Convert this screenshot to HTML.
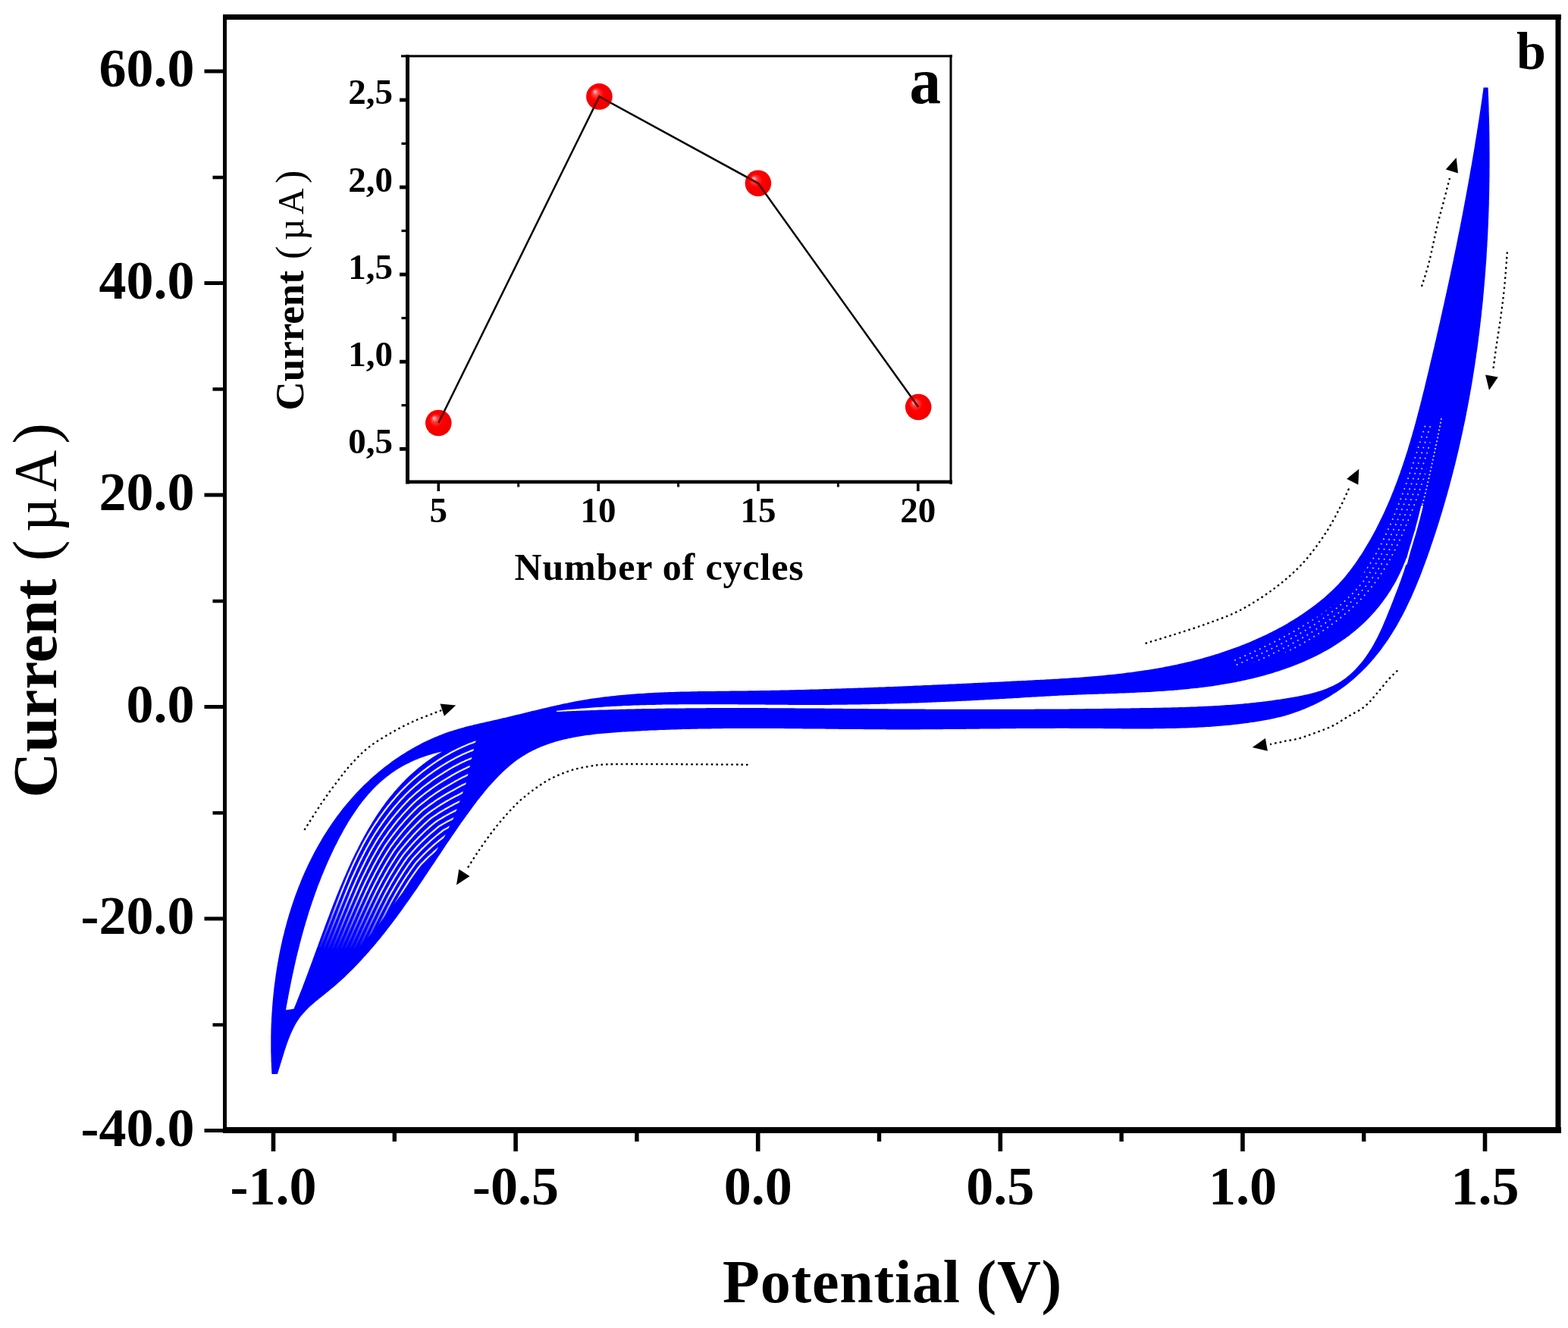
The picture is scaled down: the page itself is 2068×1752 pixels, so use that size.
<!DOCTYPE html>
<html><head><meta charset="utf-8"><title>Cyclic voltammetry</title>
<style>html,body{margin:0;padding:0;background:#fff;overflow:hidden;width:2068px;height:1752px;}svg{display:block;}</style></head>
<body>
<svg width="2068" height="1752" viewBox="0 0 2068 1752">
<defs>
<radialGradient id="ball" cx="0.5" cy="0.5" r="0.5" fx="0.32" fy="0.3">
<stop offset="0" stop-color="#ffd8d8"/>
<stop offset="0.22" stop-color="#ff4040"/>
<stop offset="0.5" stop-color="#ff0000"/>
<stop offset="1" stop-color="#ee0000"/>
</radialGradient>
</defs>
<rect width="2068" height="1752" fill="#fff"/>
<path d="M358.5,1417.0 L358.3,1414.1 L358.2,1411.2 L358.0,1408.2 L357.9,1405.3 L357.8,1402.4 L357.6,1399.4 L357.6,1396.5 L357.5,1393.5 L357.4,1390.6 L357.3,1387.6 L357.3,1384.6 L357.3,1381.7 L357.3,1378.7 L357.3,1375.7 L357.3,1372.7 L357.3,1369.8 L357.3,1366.8 L357.4,1363.8 L357.4,1360.8 L357.5,1357.8 L357.6,1354.8 L357.7,1351.8 L357.9,1348.8 L358.0,1345.8 L358.1,1342.8 L358.3,1339.8 L358.5,1336.7 L358.7,1333.7 L358.9,1330.7 L359.1,1327.7 L359.4,1324.7 L359.6,1321.7 L359.9,1318.6 L360.2,1315.6 L360.5,1312.6 L360.8,1309.6 L361.1,1306.6 L361.4,1303.6 L361.8,1300.5 L362.2,1297.5 L362.6,1294.5 L363.0,1291.5 L363.4,1288.5 L363.8,1285.5 L364.3,1282.5 L364.7,1279.4 L365.2,1276.4 L365.7,1273.4 L366.2,1270.4 L366.8,1267.4 L367.3,1264.4 L367.9,1261.4 L368.4,1258.5 L369.0,1255.5 L369.6,1252.5 L370.3,1249.5 L370.9,1246.5 L371.6,1243.6 L372.2,1240.6 L372.9,1237.6 L373.6,1234.7 L374.4,1231.7 L375.1,1228.8 L375.8,1225.8 L376.6,1222.9 L377.4,1219.9 L378.2,1217.0 L379.0,1214.1 L379.9,1211.2 L380.7,1208.2 L381.6,1205.3 L382.5,1202.4 L383.4,1199.5 L384.3,1196.7 L385.3,1193.8 L386.2,1190.9 L387.2,1188.0 L388.2,1185.2 L389.2,1182.3 L390.2,1179.5 L391.3,1176.7 L392.4,1173.8 L393.4,1171.0 L394.5,1168.2 L395.7,1165.4 L396.8,1162.6 L397.9,1159.8 L399.1,1157.1 L400.3,1154.3 L401.5,1151.5 L402.7,1148.8 L404.0,1146.0 L405.3,1143.3 L406.5,1140.6 L407.8,1137.9 L409.2,1135.2 L410.5,1132.5 L411.8,1129.9 L413.2,1127.2 L414.6,1124.5 L416.0,1121.9 L417.5,1119.3 L418.9,1116.7 L420.4,1114.1 L421.9,1111.5 L423.4,1108.9 L424.9,1106.3 L426.4,1103.8 L428.0,1101.2 L429.6,1098.7 L431.2,1096.2 L432.8,1093.7 L434.4,1091.2 L436.1,1088.7 L437.8,1086.3 L439.5,1083.8 L441.2,1081.4 L442.9,1079.0 L444.7,1076.6 L446.5,1074.2 L448.3,1071.8 L450.1,1069.5 L451.9,1067.1 L453.8,1064.8 L455.7,1062.5 L457.6,1060.2 L459.5,1057.9 L461.5,1055.7 L463.4,1053.4 L465.4,1051.2 L467.4,1049.0 L469.4,1046.8 L471.5,1044.6 L473.5,1042.4 L475.6,1040.3 L477.7,1038.2 L479.8,1036.1 L482.0,1034.0 L484.2,1031.9 L486.3,1029.9 L488.5,1027.8 L490.8,1025.8 L493.0,1023.8 L495.3,1021.9 L497.5,1019.9 L499.8,1018.0 L502.2,1016.1 L504.5,1014.2 L506.8,1012.3 L509.2,1010.5 L511.6,1008.7 L514.0,1006.9 L516.4,1005.1 L518.9,1003.3 L521.3,1001.6 L523.8,999.9 L526.3,998.2 L528.8,996.6 L531.3,995.0 L533.9,993.4 L536.4,991.8 L539.0,990.2 L541.6,988.7 L544.2,987.2 L546.8,985.7 L549.4,984.3 L552.1,982.9 L554.7,981.5 L557.4,980.1 L560.1,978.8 L562.8,977.5 L565.5,976.2 L568.2,975.0 L571.0,973.8 L573.7,972.6 L576.5,971.4 L579.3,970.3 L582.1,969.2 L584.9,968.1 L587.7,967.1 L590.5,966.1 L593.4,965.1 L596.2,964.2 L599.1,963.3 L602.0,962.4 L604.9,961.5 L607.8,960.7 L610.7,959.9 L613.6,959.1 L616.5,958.3 L619.5,957.6 L622.4,956.9 L625.3,956.1 L628.3,955.4 L631.2,954.7 L634.2,954.1 L637.1,953.4 L640.1,952.7 L643.0,952.0 L646.0,951.4 L649.0,950.7 L651.9,950.0 L654.9,949.4 L657.8,948.7 L660.8,948.0 L663.7,947.3 L666.7,946.7 L669.6,946.0 L672.6,945.3 L675.5,944.6 L678.5,943.8 L681.4,943.1 L684.3,942.4 L687.3,941.7 L690.2,941.0 L693.1,940.3 L696.1,939.5 L699.0,938.8 L701.9,938.1 L704.9,937.4 L707.8,936.7 L710.7,936.0 L713.6,935.3 L716.6,934.6 L719.5,933.9 L722.4,933.2 L725.4,932.5 L728.3,931.8 L731.2,931.2 L734.1,930.5 L737.1,929.9 L740.0,929.2 L742.9,928.6 L745.9,928.0 L748.8,927.4 L751.7,926.8 L754.7,926.2 L757.6,925.6 L760.5,925.1 L763.5,924.6 L766.4,924.0 L769.4,923.5 L772.3,923.0 L775.3,922.6 L778.2,922.1 L781.2,921.6 L784.1,921.2 L787.1,920.8 L790.1,920.4 L793.0,920.0 L796.0,919.6 L798.9,919.2 L801.9,918.9 L804.9,918.5 L807.8,918.2 L810.8,917.9 L813.8,917.6 L816.8,917.3 L819.7,917.0 L822.7,916.7 L825.7,916.4 L828.7,916.2 L831.7,915.9 L834.6,915.7 L837.6,915.5 L840.6,915.3 L843.6,915.1 L846.6,914.9 L849.6,914.7 L852.6,914.5 L855.6,914.3 L858.6,914.2 L861.6,914.0 L864.6,913.8 L867.5,913.7 L870.5,913.6 L873.5,913.4 L876.5,913.3 L879.5,913.2 L882.5,913.1 L885.5,913.0 L888.6,912.9 L891.6,912.8 L894.6,912.7 L897.6,912.6 L900.6,912.6 L903.6,912.5 L906.6,912.4 L909.6,912.4 L912.6,912.3 L915.6,912.2 L918.6,912.2 L921.6,912.1 L924.6,912.1 L927.6,912.0 L930.7,912.0 L933.7,912.0 L936.7,911.9 L939.7,911.9 L942.7,911.9 L945.7,911.8 L948.7,911.8 L951.7,911.8 L954.8,911.7 L957.8,911.7 L960.8,911.7 L963.8,911.6 L966.8,911.6 L969.8,911.6 L972.8,911.5 L975.8,911.5 L978.9,911.5 L981.9,911.4 L984.9,911.4 L987.9,911.3 L990.9,911.3 L993.9,911.3 L996.9,911.2 L999.9,911.2 L1003.0,911.1 L1006.0,911.1 L1009.0,911.0 L1012.0,910.9 L1015.0,910.9 L1018.0,910.8 L1021.0,910.8 L1024.0,910.7 L1027.0,910.7 L1030.0,910.6 L1033.1,910.5 L1036.1,910.5 L1039.1,910.4 L1042.1,910.3 L1045.1,910.2 L1048.1,910.2 L1051.1,910.1 L1054.1,910.0 L1057.1,909.9 L1060.1,909.9 L1063.2,909.8 L1066.2,909.7 L1069.2,909.6 L1072.2,909.5 L1075.2,909.5 L1078.2,909.4 L1081.2,909.3 L1084.2,909.2 L1087.2,909.1 L1090.2,909.0 L1093.2,908.9 L1096.2,908.8 L1099.2,908.7 L1102.3,908.6 L1105.3,908.5 L1108.3,908.4 L1111.3,908.3 L1114.3,908.2 L1117.3,908.1 L1120.3,908.0 L1123.3,907.9 L1126.3,907.8 L1129.3,907.7 L1132.3,907.6 L1135.3,907.5 L1138.3,907.4 L1141.3,907.3 L1144.3,907.2 L1147.3,907.1 L1150.4,907.0 L1153.4,906.8 L1156.4,906.7 L1159.4,906.6 L1162.4,906.5 L1165.4,906.4 L1168.4,906.3 L1171.4,906.1 L1174.4,906.0 L1177.4,905.9 L1180.4,905.8 L1183.4,905.7 L1186.4,905.5 L1189.4,905.4 L1192.4,905.3 L1195.4,905.2 L1198.4,905.0 L1201.4,904.9 L1204.4,904.8 L1207.4,904.6 L1210.5,904.5 L1213.5,904.4 L1216.5,904.3 L1219.5,904.1 L1222.5,904.0 L1225.5,903.9 L1228.5,903.7 L1231.5,903.6 L1234.5,903.5 L1237.5,903.3 L1240.5,903.2 L1243.5,903.1 L1246.5,902.9 L1249.5,902.8 L1252.5,902.6 L1255.5,902.5 L1258.5,902.4 L1261.5,902.2 L1264.5,902.1 L1267.5,901.9 L1270.5,901.8 L1273.5,901.7 L1276.5,901.5 L1279.6,901.4 L1282.6,901.2 L1285.6,901.1 L1288.6,901.0 L1291.6,900.8 L1294.6,900.7 L1297.6,900.5 L1300.6,900.4 L1303.6,900.2 L1306.6,900.1 L1309.6,899.9 L1312.6,899.8 L1315.6,899.7 L1318.6,899.5 L1321.6,899.4 L1324.6,899.2 L1327.6,899.1 L1330.6,898.9 L1333.6,898.8 L1336.6,898.6 L1339.6,898.5 L1342.6,898.3 L1345.6,898.2 L1348.7,898.0 L1351.7,897.9 L1354.7,897.7 L1357.7,897.6 L1360.7,897.4 L1363.7,897.3 L1366.7,897.1 L1369.7,897.0 L1372.7,896.8 L1375.7,896.7 L1378.7,896.5 L1381.7,896.3 L1384.7,896.2 L1387.7,896.0 L1390.7,895.8 L1393.7,895.7 L1396.7,895.5 L1399.7,895.3 L1402.7,895.1 L1405.7,894.9 L1408.7,894.7 L1411.7,894.5 L1414.7,894.3 L1417.7,894.1 L1420.7,893.9 L1423.7,893.7 L1426.7,893.5 L1429.7,893.2 L1432.7,893.0 L1435.6,892.8 L1438.6,892.5 L1441.6,892.3 L1444.6,892.0 L1447.6,891.8 L1450.6,891.5 L1453.6,891.2 L1456.5,890.9 L1459.5,890.6 L1462.5,890.3 L1465.5,890.0 L1468.5,889.7 L1471.4,889.4 L1474.4,889.0 L1477.4,888.7 L1480.4,888.4 L1483.3,888.0 L1486.3,887.6 L1489.3,887.3 L1492.2,886.9 L1495.2,886.5 L1498.2,886.1 L1501.1,885.6 L1504.1,885.2 L1507.0,884.8 L1510.0,884.3 L1512.9,883.9 L1515.9,883.4 L1518.8,882.9 L1521.8,882.4 L1524.7,881.9 L1527.7,881.4 L1530.6,880.9 L1533.6,880.4 L1536.5,879.8 L1539.4,879.2 L1542.4,878.7 L1545.3,878.1 L1548.2,877.5 L1551.2,876.9 L1554.1,876.2 L1557.0,875.6 L1559.9,874.9 L1562.8,874.3 L1565.8,873.6 L1568.7,872.9 L1571.6,872.2 L1574.5,871.4 L1577.4,870.7 L1580.3,869.9 L1583.2,869.2 L1586.1,868.4 L1589.0,867.6 L1591.9,866.7 L1594.8,865.9 L1597.6,865.1 L1600.5,864.2 L1603.4,863.3 L1606.3,862.4 L1609.2,861.5 L1612.0,860.5 L1614.9,859.6 L1617.8,858.6 L1620.6,857.6 L1623.5,856.6 L1626.3,855.6 L1629.2,854.5 L1632.0,853.5 L1634.9,852.4 L1637.7,851.3 L1640.6,850.2 L1643.4,849.1 L1646.2,847.9 L1649.0,846.7 L1651.8,845.5 L1654.6,844.3 L1657.4,843.1 L1660.2,841.8 L1663.0,840.6 L1665.7,839.3 L1668.5,838.0 L1671.3,836.7 L1674.0,835.3 L1676.7,834.0 L1679.4,832.6 L1682.1,831.2 L1684.8,829.8 L1687.5,828.3 L1690.2,826.9 L1692.8,825.4 L1695.5,823.9 L1698.1,822.4 L1700.7,820.8 L1703.3,819.3 L1705.9,817.7 L1708.5,816.1 L1711.1,814.5 L1713.6,812.8 L1716.1,811.2 L1718.6,809.5 L1721.1,807.8 L1723.6,806.1 L1726.0,804.3 L1728.5,802.6 L1730.9,800.8 L1733.3,799.0 L1735.7,797.2 L1738.0,795.3 L1740.4,793.5 L1742.7,791.6 L1745.0,789.7 L1747.3,787.8 L1749.5,785.8 L1751.7,783.8 L1753.9,781.8 L1756.1,779.8 L1758.2,777.8 L1760.3,775.7 L1762.4,773.6 L1764.5,771.4 L1766.5,769.3 L1768.5,767.1 L1770.5,764.9 L1772.4,762.7 L1774.3,760.4 L1776.2,758.1 L1778.0,755.8 L1779.9,753.5 L1781.7,751.1 L1783.4,748.7 L1785.2,746.3 L1786.9,743.9 L1788.6,741.5 L1790.3,739.1 L1791.9,736.6 L1793.5,734.1 L1795.2,731.7 L1796.8,729.2 L1798.3,726.7 L1799.9,724.1 L1801.4,721.6 L1802.9,719.1 L1804.4,716.5 L1805.9,714.0 L1807.4,711.4 L1808.8,708.8 L1810.3,706.2 L1811.7,703.6 L1813.1,701.0 L1814.5,698.4 L1815.8,695.7 L1817.2,693.1 L1818.5,690.5 L1819.8,687.8 L1821.1,685.1 L1822.4,682.4 L1823.7,679.8 L1825.0,677.1 L1826.2,674.4 L1827.4,671.6 L1828.6,668.9 L1829.8,666.2 L1831.0,663.5 L1832.2,660.7 L1833.4,658.0 L1834.5,655.2 L1835.6,652.4 L1836.7,649.7 L1837.9,646.9 L1838.9,644.1 L1840.0,641.3 L1841.1,638.5 L1842.1,635.7 L1843.2,632.9 L1844.2,630.0 L1845.2,627.2 L1846.3,624.4 L1847.2,621.5 L1848.2,618.7 L1849.2,615.8 L1850.2,613.0 L1851.1,610.1 L1852.1,607.3 L1853.0,604.4 L1853.9,601.5 L1854.9,598.6 L1855.8,595.7 L1856.7,592.9 L1857.5,590.0 L1858.4,587.1 L1859.3,584.2 L1860.2,581.3 L1861.0,578.3 L1861.9,575.4 L1862.7,572.5 L1863.5,569.6 L1864.4,566.7 L1865.2,563.7 L1866.0,560.8 L1866.8,557.9 L1867.6,555.0 L1868.4,552.0 L1869.2,549.1 L1869.9,546.1 L1870.7,543.2 L1871.5,540.3 L1872.2,537.3 L1873.0,534.4 L1873.7,531.4 L1874.5,528.5 L1875.2,525.5 L1876.0,522.6 L1876.7,519.6 L1877.4,516.7 L1878.2,513.7 L1878.9,510.8 L1879.6,507.8 L1880.3,504.8 L1881.0,501.9 L1881.7,498.9 L1882.4,496.0 L1883.1,493.0 L1883.9,490.1 L1884.6,487.1 L1885.2,484.2 L1885.9,481.2 L1886.6,478.3 L1887.3,475.3 L1888.0,472.4 L1888.7,469.5 L1889.4,466.5 L1890.1,463.6 L1890.8,460.6 L1891.5,457.7 L1892.1,454.7 L1892.8,451.8 L1893.5,448.9 L1894.2,445.9 L1894.8,443.0 L1895.5,440.1 L1896.2,437.1 L1896.9,434.2 L1897.5,431.3 L1898.2,428.3 L1898.9,425.4 L1899.5,422.5 L1900.2,419.5 L1900.8,416.6 L1901.5,413.7 L1902.1,410.8 L1902.8,407.8 L1903.4,404.9 L1904.1,402.0 L1904.7,399.0 L1905.4,396.1 L1906.0,393.2 L1906.7,390.3 L1907.3,387.3 L1908.0,384.4 L1908.6,381.5 L1909.2,378.6 L1909.9,375.6 L1910.5,372.7 L1911.1,369.8 L1911.7,366.9 L1912.4,363.9 L1913.0,361.0 L1913.6,358.1 L1914.2,355.2 L1914.8,352.2 L1915.4,349.3 L1916.1,346.4 L1916.7,343.5 L1917.3,340.5 L1917.9,337.6 L1918.5,334.7 L1919.1,331.8 L1919.7,328.8 L1920.3,325.9 L1920.9,323.0 L1921.5,320.1 L1922.1,317.1 L1922.6,314.2 L1923.2,311.3 L1923.8,308.3 L1924.4,305.4 L1925.0,302.5 L1925.6,299.6 L1926.1,296.6 L1926.7,293.7 L1927.3,290.8 L1927.8,287.8 L1928.4,284.9 L1929.0,282.0 L1929.5,279.0 L1930.1,276.1 L1930.6,273.1 L1931.2,270.2 L1931.7,267.3 L1932.3,264.3 L1932.8,261.4 L1933.4,258.5 L1933.9,255.5 L1934.5,252.6 L1935.0,249.6 L1935.5,246.7 L1936.1,243.7 L1936.6,240.8 L1937.1,237.8 L1937.7,234.9 L1938.2,231.9 L1938.7,229.0 L1939.2,226.0 L1939.7,223.1 L1940.3,220.1 L1940.8,217.2 L1941.3,214.2 L1941.8,211.2 L1942.3,208.3 L1942.8,205.3 L1943.3,202.3 L1943.8,199.4 L1944.3,196.4 L1944.8,193.4 L1945.3,190.5 L1945.7,187.5 L1946.2,184.5 L1946.7,181.5 L1947.2,178.6 L1947.7,175.6 L1948.1,172.6 L1948.6,169.6 L1949.1,166.6 L1949.5,163.7 L1950.0,160.7 L1950.5,157.7 L1950.9,154.7 L1951.4,151.7 L1951.8,148.7 L1952.3,145.7 L1952.7,142.7 L1953.2,139.7 L1953.6,136.7 L1954.0,133.7 L1954.5,130.7 L1954.9,127.7 L1955.3,124.7 L1955.8,121.6 L1956.2,118.6 L1956.6,115.6 L1962.6,115.6 L1962.7,118.6 L1962.8,121.6 L1962.9,124.6 L1963.1,127.6 L1963.2,130.6 L1963.3,133.6 L1963.4,136.6 L1963.5,139.6 L1963.6,142.7 L1963.6,145.7 L1963.7,148.7 L1963.8,151.7 L1963.9,154.7 L1964.0,157.7 L1964.0,160.7 L1964.1,163.7 L1964.2,166.7 L1964.2,169.7 L1964.3,172.7 L1964.3,175.7 L1964.4,178.7 L1964.4,181.7 L1964.4,184.7 L1964.5,187.8 L1964.5,190.8 L1964.5,193.8 L1964.5,196.8 L1964.6,199.8 L1964.6,202.8 L1964.6,205.8 L1964.6,208.8 L1964.6,211.8 L1964.6,214.8 L1964.6,217.8 L1964.6,220.8 L1964.5,223.8 L1964.5,226.8 L1964.5,229.8 L1964.5,232.8 L1964.4,235.9 L1964.4,238.9 L1964.3,241.9 L1964.3,244.9 L1964.2,247.9 L1964.2,250.9 L1964.1,253.9 L1964.1,256.9 L1964.0,259.9 L1963.9,262.9 L1963.8,265.9 L1963.8,268.9 L1963.7,271.9 L1963.6,274.9 L1963.5,277.9 L1963.4,280.9 L1963.3,283.9 L1963.2,286.9 L1963.0,289.9 L1962.9,292.9 L1962.8,295.9 L1962.7,298.9 L1962.5,301.9 L1962.4,304.9 L1962.3,307.9 L1962.1,310.9 L1962.0,313.9 L1961.8,316.9 L1961.6,319.9 L1961.5,322.9 L1961.3,325.9 L1961.1,328.9 L1960.9,331.9 L1960.7,334.9 L1960.6,337.9 L1960.4,340.9 L1960.2,343.9 L1960.0,346.9 L1959.7,349.9 L1959.5,352.9 L1959.3,355.8 L1959.1,358.8 L1958.8,361.8 L1958.6,364.8 L1958.4,367.8 L1958.1,370.8 L1957.9,373.8 L1957.6,376.8 L1957.3,379.8 L1957.1,382.8 L1956.8,385.7 L1956.5,388.7 L1956.2,391.7 L1956.0,394.7 L1955.7,397.7 L1955.4,400.7 L1955.1,403.6 L1954.8,406.6 L1954.4,409.6 L1954.1,412.6 L1953.8,415.6 L1953.5,418.6 L1953.1,421.5 L1952.8,424.5 L1952.4,427.5 L1952.1,430.5 L1951.7,433.4 L1951.4,436.4 L1951.0,439.4 L1950.6,442.4 L1950.2,445.3 L1949.9,448.3 L1949.5,451.3 L1949.1,454.3 L1948.7,457.2 L1948.3,460.2 L1947.9,463.2 L1947.4,466.1 L1947.0,469.1 L1946.6,472.1 L1946.1,475.0 L1945.7,478.0 L1945.3,481.0 L1944.8,483.9 L1944.3,486.9 L1943.9,489.8 L1943.4,492.8 L1942.9,495.8 L1942.5,498.7 L1942.0,501.7 L1941.5,504.6 L1941.0,507.6 L1940.5,510.5 L1940.0,513.5 L1939.4,516.4 L1938.9,519.4 L1938.4,522.3 L1937.9,525.3 L1937.3,528.2 L1936.8,531.2 L1936.2,534.1 L1935.7,537.1 L1935.1,540.0 L1934.5,543.0 L1933.9,545.9 L1933.4,548.8 L1932.8,551.8 L1932.2,554.7 L1931.6,557.7 L1931.0,560.6 L1930.3,563.5 L1929.7,566.5 L1929.1,569.4 L1928.5,572.3 L1927.8,575.3 L1927.2,578.2 L1926.5,581.1 L1925.9,584.0 L1925.2,587.0 L1924.5,589.9 L1923.9,592.8 L1923.2,595.7 L1922.5,598.7 L1921.8,601.6 L1921.1,604.5 L1920.4,607.4 L1919.7,610.3 L1919.0,613.3 L1918.2,616.2 L1917.5,619.1 L1916.7,622.0 L1916.0,624.9 L1915.2,627.8 L1914.5,630.7 L1913.7,633.6 L1912.9,636.5 L1912.2,639.4 L1911.4,642.3 L1910.6,645.2 L1909.8,648.1 L1909.0,651.0 L1908.2,653.9 L1907.3,656.8 L1906.5,659.7 L1905.7,662.6 L1904.8,665.5 L1904.0,668.4 L1903.1,671.3 L1902.3,674.2 L1901.4,677.0 L1900.5,679.9 L1899.6,682.8 L1898.8,685.7 L1897.9,688.6 L1897.0,691.4 L1896.1,694.3 L1895.1,697.2 L1894.2,700.1 L1893.3,702.9 L1892.3,705.8 L1891.4,708.7 L1890.4,711.5 L1889.5,714.4 L1888.5,717.3 L1887.5,720.1 L1886.6,723.0 L1885.6,725.9 L1884.6,728.7 L1883.6,731.6 L1882.6,734.4 L1881.6,737.3 L1880.5,740.1 L1879.5,743.0 L1878.4,745.8 L1877.4,748.6 L1876.3,751.5 L1875.3,754.3 L1874.2,757.1 L1873.1,759.9 L1872.0,762.7 L1870.8,765.5 L1869.7,768.3 L1868.6,771.1 L1867.4,773.9 L1866.2,776.7 L1865.0,779.4 L1863.8,782.2 L1862.6,784.9 L1861.4,787.7 L1860.2,790.4 L1858.9,793.1 L1857.6,795.8 L1856.3,798.5 L1855.0,801.2 L1853.7,803.9 L1852.4,806.6 L1851.0,809.2 L1849.6,811.9 L1848.2,814.5 L1846.8,817.1 L1845.4,819.7 L1843.9,822.3 L1842.5,824.9 L1841.0,827.4 L1839.5,830.0 L1837.9,832.5 L1836.4,835.0 L1834.8,837.5 L1833.2,840.0 L1831.6,842.5 L1830.0,844.9 L1828.3,847.3 L1826.6,849.7 L1824.9,852.1 L1823.2,854.5 L1821.4,856.9 L1819.7,859.2 L1817.9,861.5 L1816.0,863.8 L1814.2,866.1 L1812.3,868.4 L1810.4,870.6 L1808.5,872.8 L1806.5,875.0 L1804.5,877.2 L1802.5,879.4 L1800.5,881.5 L1798.4,883.6 L1796.3,885.7 L1794.2,887.8 L1792.0,889.8 L1789.8,891.8 L1787.6,893.8 L1785.4,895.8 L1783.1,897.7 L1780.8,899.6 L1778.5,901.5 L1776.1,903.4 L1773.7,905.2 L1771.3,907.0 L1768.8,908.8 L1766.3,910.5 L1763.8,912.3 L1761.2,914.0 L1758.6,915.6 L1756.0,917.3 L1753.4,918.9 L1750.7,920.4 L1748.0,922.0 L1745.3,923.5 L1742.6,925.0 L1739.8,926.4 L1737.1,927.8 L1734.3,929.2 L1731.5,930.5 L1728.7,931.8 L1725.8,933.1 L1723.0,934.3 L1720.1,935.5 L1717.3,936.6 L1714.4,937.7 L1711.5,938.8 L1708.6,939.8 L1705.8,940.8 L1702.9,941.8 L1700.0,942.7 L1697.1,943.5 L1694.2,944.4 L1691.3,945.2 L1688.4,945.9 L1685.5,946.6 L1682.6,947.3 L1679.7,947.9 L1676.8,948.6 L1673.8,949.2 L1670.9,949.7 L1668.0,950.3 L1665.1,950.8 L1662.2,951.3 L1659.3,951.8 L1656.3,952.2 L1653.4,952.7 L1650.5,953.1 L1647.5,953.5 L1644.6,953.9 L1641.7,954.3 L1638.7,954.7 L1635.8,955.0 L1632.8,955.4 L1629.9,955.7 L1627.0,956.0 L1624.0,956.4 L1621.1,956.7 L1618.1,956.9 L1615.1,957.2 L1612.2,957.5 L1609.2,957.7 L1606.3,958.0 L1603.3,958.2 L1600.3,958.4 L1597.4,958.7 L1594.4,958.9 L1591.4,959.1 L1588.5,959.2 L1585.5,959.4 L1582.5,959.6 L1579.5,959.7 L1576.5,959.9 L1573.6,960.0 L1570.6,960.2 L1567.6,960.3 L1564.6,960.4 L1561.6,960.5 L1558.6,960.6 L1555.6,960.7 L1552.7,960.8 L1549.7,960.9 L1546.7,961.0 L1543.7,961.0 L1540.7,961.1 L1537.7,961.1 L1534.7,961.2 L1531.7,961.2 L1528.7,961.3 L1525.7,961.3 L1522.7,961.3 L1519.7,961.4 L1516.7,961.4 L1513.7,961.4 L1510.6,961.4 L1507.6,961.4 L1504.6,961.4 L1501.6,961.4 L1498.6,961.4 L1495.6,961.4 L1492.6,961.4 L1489.6,961.4 L1486.6,961.4 L1483.5,961.4 L1480.5,961.4 L1477.5,961.3 L1474.5,961.3 L1471.5,961.3 L1468.5,961.3 L1465.4,961.2 L1462.4,961.2 L1459.4,961.2 L1456.4,961.2 L1453.4,961.1 L1450.4,961.1 L1447.3,961.1 L1444.3,961.1 L1441.3,961.0 L1438.3,961.0 L1435.2,961.0 L1432.2,961.0 L1429.2,960.9 L1426.2,960.9 L1423.2,960.9 L1420.1,960.9 L1417.1,960.9 L1414.1,960.9 L1411.1,960.9 L1408.1,960.8 L1405.0,960.8 L1402.0,960.8 L1399.0,960.8 L1396.0,960.8 L1393.0,960.8 L1389.9,960.9 L1386.9,960.9 L1383.9,960.9 L1380.9,960.9 L1377.9,960.9 L1374.8,960.9 L1371.8,960.9 L1368.8,960.9 L1365.8,961.0 L1362.8,961.0 L1359.7,961.0 L1356.7,961.0 L1353.7,961.0 L1350.7,961.1 L1347.7,961.1 L1344.7,961.1 L1341.6,961.1 L1338.6,961.2 L1335.6,961.2 L1332.6,961.2 L1329.6,961.3 L1326.6,961.3 L1323.5,961.3 L1320.5,961.3 L1317.5,961.4 L1314.5,961.4 L1311.5,961.4 L1308.5,961.5 L1305.5,961.5 L1302.4,961.5 L1299.4,961.6 L1296.4,961.6 L1293.4,961.6 L1290.4,961.7 L1287.4,961.7 L1284.4,961.7 L1281.4,961.8 L1278.3,961.8 L1275.3,961.8 L1272.3,961.9 L1269.3,961.9 L1266.3,961.9 L1263.3,962.0 L1260.3,962.0 L1257.3,962.0 L1254.3,962.1 L1251.3,962.1 L1248.3,962.1 L1245.2,962.1 L1242.2,962.2 L1239.2,962.2 L1236.2,962.2 L1233.2,962.2 L1230.2,962.3 L1227.2,962.3 L1224.2,962.3 L1221.2,962.3 L1218.2,962.3 L1215.2,962.3 L1212.2,962.4 L1209.2,962.4 L1206.2,962.4 L1203.2,962.4 L1200.2,962.4 L1197.2,962.4 L1194.2,962.4 L1191.2,962.4 L1188.2,962.4 L1185.2,962.4 L1182.2,962.4 L1179.2,962.4 L1176.2,962.4 L1173.2,962.4 L1170.2,962.4 L1167.3,962.3 L1164.3,962.3 L1161.3,962.3 L1158.3,962.3 L1155.3,962.3 L1152.3,962.3 L1149.3,962.2 L1146.3,962.2 L1143.3,962.2 L1140.3,962.2 L1137.3,962.1 L1134.4,962.1 L1131.4,962.1 L1128.4,962.1 L1125.4,962.0 L1122.4,962.0 L1119.4,962.0 L1116.4,962.0 L1113.4,961.9 L1110.5,961.9 L1107.5,961.9 L1104.5,961.8 L1101.5,961.8 L1098.5,961.8 L1095.5,961.7 L1092.5,961.7 L1089.6,961.7 L1086.6,961.6 L1083.6,961.6 L1080.6,961.6 L1077.6,961.6 L1074.6,961.5 L1071.6,961.5 L1068.6,961.5 L1065.7,961.4 L1062.7,961.4 L1059.7,961.4 L1056.7,961.3 L1053.7,961.3 L1050.7,961.3 L1047.7,961.3 L1044.7,961.2 L1041.8,961.2 L1038.8,961.2 L1035.8,961.2 L1032.8,961.1 L1029.8,961.1 L1026.8,961.1 L1023.8,961.1 L1020.8,961.1 L1017.8,961.1 L1014.9,961.0 L1011.9,961.0 L1008.9,961.0 L1005.9,961.0 L1002.9,961.0 L999.9,961.0 L996.9,961.0 L993.9,961.0 L990.9,961.0 L987.9,961.0 L984.9,961.0 L981.9,961.0 L978.9,961.0 L975.9,961.0 L972.9,961.0 L969.9,961.0 L967.0,961.1 L964.0,961.1 L961.0,961.1 L958.0,961.1 L955.0,961.1 L952.0,961.2 L948.9,961.2 L945.9,961.2 L942.9,961.3 L939.9,961.3 L936.9,961.4 L933.9,961.4 L930.9,961.4 L927.9,961.5 L924.9,961.5 L921.9,961.6 L918.9,961.7 L915.9,961.7 L912.9,961.8 L909.8,961.9 L906.8,961.9 L903.8,962.0 L900.8,962.1 L897.8,962.2 L894.8,962.3 L891.8,962.4 L888.7,962.5 L885.7,962.6 L882.7,962.7 L879.7,962.8 L876.6,962.9 L873.6,963.0 L870.6,963.1 L867.6,963.2 L864.5,963.4 L861.5,963.5 L858.5,963.6 L855.4,963.8 L852.4,963.9 L849.4,964.1 L846.3,964.2 L843.3,964.4 L840.3,964.5 L837.2,964.7 L834.2,964.9 L831.1,965.1 L828.1,965.2 L825.1,965.4 L822.0,965.6 L819.0,965.8 L815.9,966.0 L812.9,966.2 L809.8,966.4 L806.8,966.7 L803.7,966.9 L800.7,967.2 L797.7,967.4 L794.6,967.7 L791.6,968.0 L788.6,968.3 L785.5,968.6 L782.5,969.0 L779.5,969.4 L776.5,969.7 L773.5,970.1 L770.5,970.6 L767.6,971.0 L764.6,971.5 L761.6,972.0 L758.7,972.5 L755.8,973.1 L752.8,973.7 L749.9,974.3 L747.0,974.9 L744.1,975.6 L741.3,976.3 L738.4,977.0 L735.6,977.8 L732.8,978.6 L729.9,979.4 L727.2,980.3 L724.4,981.2 L721.6,982.2 L718.9,983.2 L716.2,984.3 L713.5,985.3 L710.8,986.5 L708.2,987.6 L705.5,988.9 L702.9,990.1 L700.3,991.5 L697.8,992.8 L695.2,994.2 L692.7,995.7 L690.2,997.2 L687.8,998.8 L685.3,1000.4 L682.9,1002.1 L680.5,1003.8 L678.2,1005.6 L675.8,1007.4 L673.5,1009.3 L671.2,1011.2 L669.0,1013.2 L666.7,1015.2 L664.5,1017.2 L662.3,1019.3 L660.1,1021.4 L658.0,1023.5 L655.9,1025.7 L653.8,1027.9 L651.7,1030.2 L649.6,1032.4 L647.6,1034.7 L645.5,1037.0 L643.5,1039.3 L641.5,1041.7 L639.5,1044.1 L637.6,1046.5 L635.6,1048.9 L633.7,1051.3 L631.8,1053.7 L629.9,1056.1 L628.1,1058.6 L626.2,1061.0 L624.3,1063.5 L622.5,1066.0 L620.7,1068.4 L618.9,1070.9 L617.1,1073.4 L615.3,1075.8 L613.6,1078.3 L611.8,1080.7 L610.1,1083.2 L608.3,1085.6 L606.6,1088.1 L604.9,1090.6 L603.2,1093.0 L601.5,1095.5 L599.8,1097.9 L598.1,1100.4 L596.4,1102.8 L594.8,1105.3 L593.1,1107.7 L591.4,1110.2 L589.8,1112.6 L588.1,1115.1 L586.5,1117.5 L584.8,1120.0 L583.2,1122.4 L581.6,1124.9 L579.9,1127.4 L578.3,1129.8 L576.6,1132.3 L575.0,1134.7 L573.4,1137.2 L571.7,1139.7 L570.1,1142.1 L568.4,1144.6 L566.8,1147.1 L565.1,1149.6 L563.5,1152.0 L561.8,1154.5 L560.1,1157.0 L558.5,1159.5 L556.8,1162.0 L555.1,1164.4 L553.4,1166.9 L551.7,1169.4 L550.1,1171.9 L548.4,1174.4 L546.7,1176.8 L545.0,1179.3 L543.2,1181.8 L541.5,1184.2 L539.8,1186.7 L538.1,1189.2 L536.3,1191.6 L534.6,1194.1 L532.8,1196.6 L531.1,1199.0 L529.3,1201.4 L527.5,1203.9 L525.8,1206.3 L524.0,1208.8 L522.2,1211.2 L520.4,1213.6 L518.6,1216.0 L516.7,1218.4 L514.9,1220.8 L513.1,1223.2 L511.2,1225.6 L509.4,1228.0 L507.5,1230.4 L505.6,1232.7 L503.8,1235.1 L501.9,1237.4 L500.0,1239.8 L498.0,1242.1 L496.1,1244.4 L494.2,1246.7 L492.2,1249.0 L490.3,1251.3 L488.3,1253.6 L486.3,1255.9 L484.3,1258.1 L482.3,1260.4 L480.3,1262.6 L478.3,1264.8 L476.3,1267.0 L474.2,1269.2 L472.1,1271.4 L470.1,1273.6 L468.0,1275.7 L465.9,1277.9 L463.8,1280.0 L461.6,1282.1 L459.5,1284.2 L457.3,1286.3 L455.2,1288.4 L453.0,1290.4 L450.8,1292.5 L448.6,1294.5 L446.3,1296.5 L444.1,1298.5 L441.8,1300.5 L439.5,1302.4 L437.3,1304.3 L434.9,1306.3 L432.6,1308.2 L430.3,1310.1 L428.0,1311.9 L425.6,1313.8 L423.3,1315.7 L420.9,1317.5 L418.6,1319.4 L416.3,1321.3 L414.1,1323.2 L411.8,1325.2 L409.7,1327.1 L407.5,1329.1 L405.4,1331.2 L403.4,1333.2 L401.4,1335.4 L399.5,1337.5 L397.6,1339.8 L395.8,1342.0 L394.1,1344.4 L392.5,1346.8 L391.0,1349.3 L389.5,1351.8 L388.1,1354.4 L386.8,1357.0 L385.5,1359.7 L384.2,1362.4 L383.1,1365.1 L381.9,1367.9 L380.8,1370.7 L379.8,1373.5 L378.7,1376.4 L377.7,1379.3 L376.8,1382.2 L375.8,1385.1 L374.9,1388.0 L374.0,1390.9 L373.1,1393.8 L372.2,1396.8 L371.3,1399.7 L370.4,1402.6 L369.5,1405.5 L368.6,1408.4 L367.7,1411.3 L366.8,1414.2 L365.8,1417.0Z" fill="#0000ff"/>
<path d="M377.0,1332.5 L377.5,1329.5 L378.0,1326.6 L378.6,1323.6 L379.1,1320.7 L379.7,1317.7 L380.2,1314.8 L380.8,1311.8 L381.3,1308.9 L381.9,1305.9 L382.5,1302.9 L383.1,1300.0 L383.7,1297.0 L384.3,1294.1 L384.9,1291.1 L385.5,1288.2 L386.1,1285.2 L386.8,1282.3 L387.4,1279.4 L388.0,1276.4 L388.7,1273.5 L389.4,1270.5 L390.0,1267.6 L390.7,1264.7 L391.4,1261.7 L392.1,1258.8 L392.8,1255.9 L393.6,1252.9 L394.3,1250.0 L395.0,1247.1 L395.8,1244.1 L396.6,1241.2 L397.3,1238.3 L398.1,1235.4 L398.9,1232.5 L399.7,1229.6 L400.5,1226.7 L401.3,1223.8 L402.2,1220.9 L403.0,1218.0 L403.9,1215.1 L404.8,1212.2 L405.6,1209.3 L406.5,1206.4 L407.4,1203.5 L408.3,1200.7 L409.3,1197.8 L410.2,1194.9 L411.2,1192.1 L412.1,1189.2 L413.1,1186.4 L414.1,1183.5 L415.1,1180.7 L416.1,1177.8 L417.2,1175.0 L418.2,1172.1 L419.2,1169.3 L420.3,1166.5 L421.4,1163.7 L422.5,1160.9 L423.6,1158.1 L424.7,1155.3 L425.9,1152.5 L427.0,1149.7 L428.2,1146.9 L429.4,1144.1 L430.6,1141.3 L431.8,1138.6 L433.0,1135.8 L434.3,1133.0 L435.5,1130.3 L436.8,1127.5 L438.1,1124.8 L439.4,1122.1 L440.7,1119.3 L442.0,1116.6 L443.4,1113.9 L444.8,1111.2 L446.1,1108.5 L447.5,1105.8 L449.0,1103.1 L450.4,1100.4 L451.9,1097.8 L453.3,1095.1 L454.8,1092.5 L456.3,1089.8 L457.9,1087.2 L459.4,1084.6 L461.0,1082.1 L462.6,1079.5 L464.2,1076.9 L465.9,1074.4 L467.6,1071.9 L469.3,1069.4 L471.0,1067.0 L472.7,1064.5 L474.5,1062.1 L476.3,1059.7 L478.1,1057.3 L480.0,1055.0 L481.9,1052.7 L483.8,1050.4 L485.7,1048.1 L487.7,1045.9 L489.7,1043.7 L491.8,1041.5 L493.8,1039.4 L495.9,1037.3 L498.1,1035.2 L500.2,1033.2 L502.4,1031.2 L504.7,1029.3 L506.9,1027.4 L509.2,1025.5 L511.6,1023.7 L514.0,1021.9 L516.4,1020.1 L518.8,1018.4 L521.3,1016.8 L523.9,1015.1 L526.4,1013.6 L529.0,1012.0 L531.6,1010.6 L534.3,1009.1 L537.0,1007.7 L539.7,1006.4 L542.4,1005.1 L545.2,1003.8 L548.0,1002.6 L550.8,1001.4 L553.6,1000.3 L556.5,999.2 L559.4,998.2 L562.3,997.2 L565.2,996.2 L568.1,995.4 L571.1,994.5 L574.0,993.7 L577.0,993.0 L580.0,992.3 L583.0,991.6 L583.0,991.6 L580.3,993.2 L577.6,994.8 L574.9,996.5 L572.3,998.1 L569.7,999.8 L567.2,1001.6 L564.7,1003.3 L562.2,1005.1 L559.7,1007.0 L557.3,1008.8 L554.9,1010.7 L552.5,1012.6 L550.2,1014.5 L547.9,1016.5 L545.6,1018.5 L543.4,1020.5 L541.1,1022.5 L538.9,1024.6 L536.8,1026.6 L534.6,1028.7 L532.5,1030.9 L530.4,1033.0 L528.4,1035.2 L526.4,1037.4 L524.4,1039.6 L522.4,1041.9 L520.4,1044.1 L518.5,1046.4 L516.6,1048.7 L514.7,1051.0 L512.9,1053.3 L511.0,1055.7 L509.2,1058.1 L507.4,1060.5 L505.7,1062.9 L503.9,1065.3 L502.2,1067.8 L500.5,1070.2 L498.8,1072.7 L497.1,1075.2 L495.5,1077.7 L493.9,1080.2 L492.3,1082.8 L490.7,1085.3 L489.1,1087.9 L487.6,1090.5 L486.1,1093.1 L484.5,1095.7 L483.1,1098.3 L481.6,1100.9 L480.1,1103.6 L478.7,1106.2 L477.2,1108.9 L475.8,1111.6 L474.4,1114.3 L473.0,1117.0 L471.7,1119.7 L470.3,1122.4 L469.0,1125.1 L467.6,1127.8 L466.3,1130.6 L465.0,1133.3 L463.7,1136.1 L462.4,1138.8 L461.2,1141.6 L459.9,1144.3 L458.7,1147.1 L457.4,1149.9 L456.2,1152.7 L455.0,1155.5 L453.8,1158.3 L452.6,1161.1 L451.4,1163.9 L450.2,1166.7 L449.0,1169.5 L447.9,1172.3 L446.7,1175.1 L445.6,1178.0 L444.4,1180.8 L443.3,1183.6 L442.2,1186.5 L441.0,1189.3 L439.9,1192.1 L438.8,1195.0 L437.7,1197.8 L436.6,1200.7 L435.5,1203.5 L434.4,1206.4 L433.4,1209.2 L432.3,1212.1 L431.2,1214.9 L430.1,1217.8 L429.1,1220.6 L428.0,1223.5 L427.0,1226.4 L425.9,1229.2 L424.8,1232.1 L423.8,1234.9 L422.7,1237.8 L421.7,1240.7 L420.7,1243.5 L419.6,1246.4 L418.6,1249.2 L417.5,1252.1 L416.5,1255.0 L415.4,1257.8 L414.4,1260.7 L413.3,1263.5 L412.3,1266.4 L411.3,1269.2 L410.2,1272.1 L409.2,1274.9 L408.1,1277.7 L407.1,1280.6 L406.0,1283.4 L405.0,1286.2 L403.9,1289.1 L402.8,1291.9 L401.8,1294.7 L400.7,1297.5 L399.6,1300.4 L398.6,1303.2 L397.5,1306.0 L396.4,1308.8 L395.3,1311.6 L394.2,1314.4 L393.1,1317.1 L392.0,1319.9 L390.9,1322.7 L389.8,1325.5 L388.6,1328.2 L387.5,1331.0Z" fill="#fff"/>
<path d="M734.0,937.8 L737.0,937.5 L740.0,937.2 L743.0,936.8 L746.0,936.5 L749.0,936.3 L752.0,936.0 L755.0,935.7 L758.0,935.4 L761.0,935.2 L764.0,934.9 L767.0,934.6 L770.0,934.4 L773.0,934.2 L776.0,933.9 L779.0,933.7 L782.0,933.5 L785.0,933.3 L788.0,933.1 L791.0,932.9 L794.0,932.7 L797.0,932.5 L800.0,932.3 L803.0,932.2 L806.0,932.0 L809.0,931.8 L812.0,931.7 L815.0,931.5 L818.0,931.4 L821.0,931.3 L824.0,931.1 L827.0,931.0 L830.1,930.9 L833.1,930.8 L836.1,930.6 L839.1,930.5 L842.1,930.4 L845.1,930.3 L848.1,930.3 L851.1,930.2 L854.1,930.1 L857.1,930.0 L860.1,929.9 L863.1,929.9 L866.1,929.8 L869.2,929.7 L872.2,929.7 L875.2,929.6 L878.2,929.6 L881.2,929.5 L884.2,929.5 L887.2,929.4 L890.2,929.4 L893.2,929.4 L896.3,929.3 L899.3,929.3 L902.3,929.3 L905.3,929.3 L908.3,929.2 L911.3,929.2 L914.3,929.2 L917.3,929.2 L920.3,929.2 L923.4,929.2 L926.4,929.2 L929.4,929.2 L932.4,929.2 L935.4,929.2 L938.4,929.2 L941.4,929.2 L944.5,929.2 L947.5,929.2 L950.5,929.2 L953.5,929.2 L956.5,929.3 L959.5,929.3 L962.5,929.3 L965.6,929.3 L968.6,929.3 L971.6,929.3 L974.6,929.4 L977.6,929.4 L980.6,929.4 L983.6,929.4 L986.7,929.5 L989.7,929.5 L992.7,929.5 L995.7,929.5 L998.7,929.6 L1001.7,929.6 L1004.7,929.6 L1007.8,929.6 L1010.8,929.7 L1013.8,929.7 L1016.8,929.7 L1019.8,929.7 L1022.8,929.7 L1025.8,929.8 L1028.9,929.8 L1031.9,929.8 L1034.9,929.8 L1037.9,929.8 L1040.9,929.9 L1043.9,929.9 L1046.9,929.9 L1050.0,929.9 L1053.0,929.9 L1056.0,929.9 L1059.0,929.9 L1062.0,929.9 L1065.0,929.9 L1068.0,929.9 L1071.1,929.9 L1074.1,929.9 L1077.1,929.9 L1080.1,929.9 L1083.1,929.9 L1086.1,929.9 L1089.1,929.9 L1092.2,929.9 L1095.2,929.9 L1098.2,929.8 L1101.2,929.8 L1104.2,929.8 L1107.2,929.8 L1110.2,929.7 L1113.2,929.7 L1116.3,929.7 L1119.3,929.6 L1122.3,929.6 L1125.3,929.5 L1128.3,929.5 L1131.3,929.4 L1134.3,929.4 L1137.3,929.3 L1140.4,929.3 L1143.4,929.2 L1146.4,929.2 L1149.4,929.1 L1152.4,929.0 L1155.4,929.0 L1158.4,928.9 L1161.4,928.8 L1164.4,928.8 L1167.5,928.7 L1170.5,928.6 L1173.5,928.5 L1176.5,928.4 L1179.5,928.3 L1182.5,928.3 L1185.5,928.2 L1188.5,928.1 L1191.5,928.0 L1194.5,927.9 L1197.5,927.8 L1200.6,927.7 L1203.6,927.6 L1206.6,927.5 L1209.6,927.4 L1212.6,927.3 L1215.6,927.2 L1218.6,927.0 L1221.6,926.9 L1224.6,926.8 L1227.6,926.7 L1230.6,926.6 L1233.6,926.5 L1236.6,926.3 L1239.6,926.2 L1242.7,926.1 L1245.7,925.9 L1248.7,925.8 L1251.7,925.7 L1254.7,925.5 L1257.7,925.4 L1260.7,925.3 L1263.7,925.1 L1266.7,925.0 L1269.7,924.8 L1272.7,924.7 L1275.7,924.5 L1278.7,924.4 L1281.7,924.2 L1284.7,924.1 L1287.7,923.9 L1290.7,923.8 L1293.7,923.6 L1296.7,923.5 L1299.7,923.3 L1302.7,923.1 L1305.7,923.0 L1308.7,922.8 L1311.7,922.6 L1314.7,922.5 L1317.7,922.3 L1320.7,922.1 L1323.7,922.0 L1326.7,921.8 L1329.7,921.6 L1332.7,921.4 L1335.7,921.2 L1338.7,921.1 L1341.7,920.9 L1344.7,920.7 L1347.7,920.5 L1350.7,920.3 L1353.7,920.1 L1356.7,920.0 L1359.7,919.8 L1362.7,919.6 L1365.7,919.4 L1368.7,919.2 L1371.7,919.0 L1374.7,918.9 L1377.7,918.7 L1380.7,918.5 L1383.7,918.4 L1386.7,918.2 L1389.7,918.0 L1392.7,917.9 L1395.7,917.7 L1398.7,917.6 L1401.8,917.4 L1404.8,917.3 L1407.8,917.2 L1410.8,917.1 L1413.8,916.9 L1416.8,916.8 L1419.8,916.7 L1422.8,916.6 L1425.9,916.5 L1428.9,916.3 L1431.9,916.2 L1434.9,916.1 L1437.9,916.0 L1441.0,915.9 L1444.0,915.8 L1447.0,915.7 L1450.0,915.6 L1453.0,915.5 L1456.1,915.4 L1459.1,915.3 L1462.1,915.2 L1465.1,915.1 L1468.1,915.0 L1471.2,914.9 L1474.2,914.8 L1477.2,914.6 L1480.2,914.5 L1483.2,914.4 L1486.3,914.3 L1489.3,914.2 L1492.3,914.0 L1495.3,913.9 L1498.3,913.8 L1501.4,913.6 L1504.4,913.5 L1507.4,913.3 L1510.4,913.2 L1513.4,913.0 L1516.4,912.9 L1519.4,912.7 L1522.5,912.5 L1525.5,912.3 L1528.5,912.1 L1531.5,911.9 L1534.5,911.7 L1537.5,911.5 L1540.5,911.3 L1543.5,911.1 L1546.5,910.9 L1549.5,910.6 L1552.5,910.4 L1555.5,910.1 L1558.5,909.8 L1561.5,909.5 L1564.5,909.3 L1567.5,909.0 L1570.5,908.6 L1573.5,908.3 L1576.5,908.0 L1579.5,907.7 L1582.5,907.3 L1585.5,906.9 L1588.4,906.6 L1591.4,906.2 L1594.4,905.8 L1597.4,905.4 L1600.4,904.9 L1603.3,904.5 L1606.3,904.0 L1609.3,903.6 L1612.2,903.1 L1615.2,902.6 L1618.2,902.1 L1621.1,901.5 L1624.1,901.0 L1627.0,900.4 L1630.0,899.9 L1632.9,899.3 L1635.9,898.7 L1638.8,898.1 L1641.7,897.4 L1644.7,896.8 L1647.6,896.1 L1650.6,895.4 L1653.5,894.7 L1656.4,894.0 L1659.3,893.2 L1662.3,892.5 L1665.2,891.7 L1668.1,890.9 L1671.0,890.1 L1673.9,889.2 L1676.8,888.4 L1679.7,887.5 L1682.6,886.6 L1685.5,885.7 L1688.3,884.7 L1691.2,883.8 L1694.1,882.8 L1696.9,881.8 L1699.7,880.8 L1702.6,879.7 L1705.4,878.7 L1708.2,877.6 L1711.0,876.4 L1713.8,875.3 L1716.6,874.2 L1719.4,873.0 L1722.1,871.8 L1724.9,870.5 L1727.6,869.3 L1730.3,868.0 L1733.0,866.7 L1735.7,865.4 L1738.4,864.0 L1741.1,862.7 L1743.7,861.3 L1746.3,859.8 L1748.9,858.4 L1751.5,856.9 L1754.1,855.4 L1756.7,853.9 L1759.2,852.3 L1761.7,850.7 L1764.3,849.1 L1766.7,847.5 L1769.2,845.8 L1771.6,844.1 L1774.1,842.4 L1776.5,840.6 L1778.9,838.9 L1781.2,837.0 L1783.5,835.2 L1785.9,833.3 L1788.1,831.5 L1790.4,829.5 L1792.6,827.6 L1794.9,825.6 L1797.1,823.6 L1799.2,821.5 L1801.4,819.5 L1803.5,817.3 L1805.5,815.2 L1807.6,813.0 L1809.6,810.8 L1811.6,808.6 L1813.6,806.4 L1815.6,804.1 L1817.5,801.8 L1819.4,799.4 L1821.2,797.1 L1823.0,794.7 L1824.8,792.3 L1826.6,789.8 L1828.3,787.4 L1830.0,784.9 L1831.7,782.3 L1833.4,779.8 L1835.0,777.2 L1836.5,774.6 L1838.1,772.0 L1839.6,769.4 L1841.1,766.7 L1842.5,764.0 L1843.9,761.3 L1845.3,758.6 L1846.6,755.8 L1847.9,753.1 L1849.2,750.3 L1850.4,747.4 L1851.6,744.6 L1852.8,741.8 L1853.9,738.9 L1855.0,736.0 L1857.0,736.0 L1856.2,738.9 L1855.3,741.8 L1854.4,744.6 L1853.5,747.5 L1852.6,750.3 L1851.7,753.2 L1850.7,756.0 L1849.8,758.8 L1848.8,761.6 L1847.8,764.5 L1846.8,767.3 L1845.7,770.1 L1844.7,772.9 L1843.6,775.7 L1842.6,778.5 L1841.5,781.2 L1840.4,784.0 L1839.4,786.8 L1838.3,789.6 L1837.2,792.4 L1836.1,795.2 L1835.0,798.1 L1833.9,800.9 L1832.7,803.7 L1831.6,806.5 L1830.5,809.3 L1829.4,812.1 L1828.2,815.0 L1827.0,817.8 L1825.8,820.6 L1824.6,823.4 L1823.4,826.2 L1822.2,828.9 L1820.9,831.7 L1819.6,834.5 L1818.3,837.2 L1817.0,839.9 L1815.6,842.7 L1814.2,845.3 L1812.7,848.0 L1811.3,850.7 L1809.8,853.3 L1808.2,855.9 L1806.6,858.5 L1805.0,861.0 L1803.3,863.5 L1801.6,866.0 L1799.8,868.5 L1798.0,870.9 L1796.2,873.2 L1794.3,875.6 L1792.3,877.8 L1790.3,880.1 L1788.3,882.3 L1786.2,884.4 L1784.1,886.5 L1781.9,888.5 L1779.7,890.4 L1777.5,892.3 L1775.2,894.2 L1772.8,895.9 L1770.4,897.6 L1768.0,899.2 L1765.5,900.7 L1762.9,902.2 L1760.3,903.6 L1757.7,904.9 L1755.0,906.1 L1752.3,907.3 L1749.6,908.4 L1746.8,909.5 L1744.0,910.5 L1741.2,911.4 L1738.3,912.3 L1735.4,913.2 L1732.5,914.0 L1729.6,914.8 L1726.7,915.5 L1723.7,916.2 L1720.7,916.8 L1717.8,917.5 L1714.8,918.1 L1711.8,918.7 L1708.8,919.2 L1705.7,919.8 L1702.7,920.3 L1699.7,920.8 L1696.7,921.3 L1693.7,921.8 L1690.7,922.2 L1687.7,922.7 L1684.7,923.1 L1681.7,923.6 L1678.7,924.0 L1675.7,924.4 L1672.7,924.8 L1669.6,925.2 L1666.6,925.6 L1663.6,925.9 L1660.6,926.3 L1657.6,926.6 L1654.6,926.9 L1651.6,927.3 L1648.6,927.6 L1645.6,927.9 L1642.6,928.1 L1639.6,928.4 L1636.6,928.7 L1633.6,928.9 L1630.6,929.2 L1627.6,929.4 L1624.6,929.7 L1621.6,929.9 L1618.6,930.1 L1615.6,930.3 L1612.6,930.5 L1609.6,930.7 L1606.6,930.9 L1603.6,931.1 L1600.6,931.2 L1597.6,931.4 L1594.6,931.6 L1591.6,931.7 L1588.6,931.8 L1585.6,932.0 L1582.6,932.1 L1579.6,932.2 L1576.5,932.4 L1573.5,932.5 L1570.5,932.6 L1567.5,932.7 L1564.5,932.8 L1561.5,932.9 L1558.5,933.0 L1555.5,933.1 L1552.5,933.2 L1549.5,933.2 L1546.5,933.3 L1543.5,933.4 L1540.5,933.5 L1537.5,933.5 L1534.5,933.6 L1531.5,933.7 L1528.5,933.7 L1525.5,933.8 L1522.5,933.8 L1519.5,933.9 L1516.5,933.9 L1513.5,934.0 L1510.5,934.0 L1507.5,934.1 L1504.5,934.1 L1501.5,934.2 L1498.5,934.2 L1495.5,934.3 L1492.5,934.3 L1489.5,934.4 L1486.4,934.4 L1483.4,934.5 L1480.4,934.5 L1477.4,934.6 L1474.4,934.6 L1471.4,934.7 L1468.4,934.7 L1465.4,934.7 L1462.4,934.8 L1459.4,934.8 L1456.4,934.8 L1453.4,934.9 L1450.4,934.9 L1447.4,935.0 L1444.4,935.0 L1441.3,935.0 L1438.3,935.1 L1435.3,935.1 L1432.3,935.1 L1429.3,935.2 L1426.3,935.2 L1423.3,935.2 L1420.3,935.2 L1417.3,935.3 L1414.3,935.3 L1411.3,935.3 L1408.2,935.4 L1405.2,935.4 L1402.2,935.4 L1399.2,935.4 L1396.2,935.4 L1393.2,935.5 L1390.2,935.5 L1387.2,935.5 L1384.2,935.5 L1381.2,935.6 L1378.1,935.6 L1375.1,935.6 L1372.1,935.6 L1369.1,935.6 L1366.1,935.6 L1363.1,935.7 L1360.1,935.7 L1357.1,935.7 L1354.1,935.7 L1351.0,935.7 L1348.0,935.7 L1345.0,935.7 L1342.0,935.7 L1339.0,935.8 L1336.0,935.8 L1333.0,935.8 L1330.0,935.8 L1327.0,935.8 L1323.9,935.8 L1320.9,935.8 L1317.9,935.8 L1314.9,935.8 L1311.9,935.8 L1308.9,935.8 L1305.9,935.8 L1302.9,935.8 L1299.8,935.8 L1296.8,935.8 L1293.8,935.8 L1290.8,935.8 L1287.8,935.8 L1284.8,935.8 L1281.8,935.8 L1278.8,935.8 L1275.7,935.8 L1272.7,935.8 L1269.7,935.8 L1266.7,935.8 L1263.7,935.8 L1260.7,935.8 L1257.7,935.8 L1254.7,935.8 L1251.7,935.8 L1248.6,935.8 L1245.6,935.8 L1242.6,935.7 L1239.6,935.7 L1236.6,935.7 L1233.6,935.7 L1230.6,935.7 L1227.6,935.7 L1224.5,935.7 L1221.5,935.7 L1218.5,935.6 L1215.5,935.6 L1212.5,935.6 L1209.5,935.6 L1206.5,935.6 L1203.5,935.6 L1200.5,935.6 L1197.4,935.5 L1194.4,935.5 L1191.4,935.5 L1188.4,935.5 L1185.4,935.5 L1182.4,935.4 L1179.4,935.4 L1176.4,935.4 L1173.4,935.4 L1170.3,935.3 L1167.3,935.3 L1164.3,935.3 L1161.3,935.3 L1158.3,935.3 L1155.3,935.2 L1152.3,935.2 L1149.3,935.2 L1146.3,935.2 L1143.3,935.1 L1140.2,935.1 L1137.2,935.1 L1134.2,935.1 L1131.2,935.0 L1128.2,935.0 L1125.2,935.0 L1122.2,934.9 L1119.2,934.9 L1116.2,934.9 L1113.2,934.9 L1110.1,934.8 L1107.1,934.8 L1104.1,934.8 L1101.1,934.8 L1098.1,934.7 L1095.1,934.7 L1092.1,934.7 L1089.1,934.7 L1086.1,934.6 L1083.1,934.6 L1080.1,934.6 L1077.0,934.6 L1074.0,934.5 L1071.0,934.5 L1068.0,934.5 L1065.0,934.5 L1062.0,934.4 L1059.0,934.4 L1056.0,934.4 L1053.0,934.4 L1050.0,934.4 L1047.0,934.3 L1044.0,934.3 L1040.9,934.3 L1037.9,934.3 L1034.9,934.3 L1031.9,934.2 L1028.9,934.2 L1025.9,934.2 L1022.9,934.2 L1019.9,934.2 L1016.9,934.2 L1013.9,934.2 L1010.9,934.1 L1007.9,934.1 L1004.8,934.1 L1001.8,934.1 L998.8,934.1 L995.8,934.1 L992.8,934.1 L989.8,934.1 L986.8,934.1 L983.8,934.1 L980.8,934.1 L977.8,934.1 L974.8,934.1 L971.8,934.1 L968.7,934.1 L965.7,934.1 L962.7,934.1 L959.7,934.1 L956.7,934.1 L953.7,934.1 L950.7,934.1 L947.7,934.1 L944.7,934.1 L941.7,934.1 L938.7,934.1 L935.7,934.1 L932.6,934.1 L929.6,934.2 L926.6,934.2 L923.6,934.2 L920.6,934.2 L917.6,934.2 L914.6,934.2 L911.6,934.3 L908.6,934.3 L905.6,934.3 L902.6,934.4 L899.5,934.4 L896.5,934.4 L893.5,934.4 L890.5,934.5 L887.5,934.5 L884.5,934.6 L881.5,934.6 L878.5,934.6 L875.5,934.7 L872.5,934.7 L869.5,934.8 L866.5,934.8 L863.4,934.9 L860.4,934.9 L857.4,935.0 L854.4,935.0 L851.4,935.1 L848.4,935.1 L845.4,935.2 L842.4,935.3 L839.4,935.3 L836.4,935.4 L833.3,935.5 L830.3,935.5 L827.3,935.6 L824.3,935.7 L821.3,935.8 L818.3,935.8 L815.3,935.9 L812.3,936.0 L809.3,936.1 L806.3,936.2 L803.3,936.3 L800.2,936.4 L797.2,936.5 L794.2,936.6 L791.2,936.6 L788.2,936.8 L785.2,936.9 L782.2,937.0 L779.2,937.1 L776.2,937.2 L773.1,937.3 L770.1,937.4 L767.1,937.5 L764.1,937.7 L761.1,937.8 L758.1,937.9 L755.1,938.0 L752.1,938.2 L749.1,938.3 L746.0,938.4 L743.0,938.6 L740.0,938.7 L737.0,938.9 L734.0,939.0Z" fill="#fff"/>
<path d="M1854.5,744 L1858.5,729 L1863,714 L1867.5,699 L1871.5,684 L1875.5,668" fill="none" stroke="#fff" stroke-width="2.6" stroke-linecap="round"/>
<path d="M1876,666 L1881,646 L1886,624 L1891,601 L1896,578 L1901,552" fill="none" stroke="#fff" stroke-width="1.8" stroke-dasharray="1.8 3.2" stroke-opacity="0.9"/>
<clipPath id="hclip"><path d="M583.0,991.6 L580.3,993.2 L577.6,994.8 L574.9,996.5 L572.3,998.1 L569.7,999.8 L567.2,1001.6 L564.7,1003.3 L562.2,1005.1 L559.7,1007.0 L557.3,1008.8 L554.9,1010.7 L552.5,1012.6 L550.2,1014.5 L547.9,1016.5 L545.6,1018.5 L543.4,1020.5 L541.1,1022.5 L538.9,1024.6 L536.8,1026.6 L534.6,1028.7 L532.5,1030.9 L530.4,1033.0 L528.4,1035.2 L526.4,1037.4 L524.4,1039.6 L522.4,1041.9 L520.4,1044.1 L518.5,1046.4 L516.6,1048.7 L514.7,1051.0 L512.9,1053.3 L511.0,1055.7 L509.2,1058.1 L507.4,1060.5 L505.7,1062.9 L503.9,1065.3 L502.2,1067.8 L500.5,1070.2 L498.8,1072.7 L497.1,1075.2 L495.5,1077.7 L493.9,1080.2 L492.3,1082.8 L490.7,1085.3 L489.1,1087.9 L487.6,1090.5 L486.1,1093.1 L484.5,1095.7 L483.1,1098.3 L481.6,1100.9 L480.1,1103.6 L478.7,1106.2 L477.2,1108.9 L475.8,1111.6 L474.4,1114.3 L473.0,1117.0 L471.7,1119.7 L470.3,1122.4 L469.0,1125.1 L467.6,1127.8 L466.3,1130.6 L465.0,1133.3 L463.7,1136.1 L462.4,1138.8 L461.2,1141.6 L459.9,1144.3 L458.7,1147.1 L457.4,1149.9 L456.2,1152.7 L455.0,1155.5 L453.8,1158.3 L452.6,1161.1 L451.4,1163.9 L450.2,1166.7 L449.0,1169.5 L447.9,1172.3 L446.7,1175.1 L445.6,1178.0 L444.4,1180.8 L443.3,1183.6 L442.2,1186.5 L441.0,1189.3 L439.9,1192.1 L438.8,1195.0 L437.7,1197.8 L436.6,1200.7 L435.5,1203.5 L434.4,1206.4 L433.4,1209.2 L432.3,1212.1 L431.2,1214.9 L430.1,1217.8 L429.1,1220.6 L428.0,1223.5 L427.0,1226.4 L425.9,1229.2 L424.8,1232.1 L423.8,1234.9 L422.7,1237.8 L421.7,1240.7 L420.7,1243.5 L419.6,1246.4 L418.6,1249.2 L440.0,1252.0 L471.0,1250.0 L471.0,1251.0 L491.8,1230.0 L515.7,1198.0 L539.7,1166.0 L556.0,1146.0 L573.7,1125.0 L584.7,1107.0 L598.4,1078.7 L606.0,1058.0 L614.0,1035.8 L621.0,1005.0 L627.6,976.8 L600.0,985.0 L583.0,991.6Z"/></clipPath>
<linearGradient id="hfade" gradientUnits="userSpaceOnUse" x1="0" y1="1175" x2="0" y2="1255"><stop offset="0" stop-color="#fff"/><stop offset="1" stop-color="#fff" stop-opacity="0"/></linearGradient>
<mask id="hmask" maskUnits="userSpaceOnUse" x="0" y="0" width="2068" height="1752"><rect x="0" y="0" width="2068" height="1752" fill="url(#hfade)"/></mask>
<g clip-path="url(#hclip)" mask="url(#hmask)" fill="none" stroke="#fff" stroke-width="2.2" stroke-opacity="0.93"><path d="M651.8,971.2 L648.8,971.9 L645.8,972.7 L642.9,973.5 L640.0,974.3 L637.2,975.1 L634.3,976.0 L631.5,977.0 L628.7,977.9 L625.9,978.9 L623.1,980.0 L620.3,981.0 L617.6,982.1 L614.9,983.3 L612.1,984.4 L609.5,985.6 L606.8,986.9 L604.1,988.1 L601.5,989.4 L598.9,990.8 L596.3,992.1 L593.7,993.5 L591.2,995.0 L588.6,996.4 L586.1,997.9 L583.6,999.4 L581.1,1001.0 L578.7,1002.5 L576.2,1004.1 L573.8,1005.8 L571.4,1007.4 L569.0,1009.1 L566.6,1010.8 L564.3,1012.5 L561.9,1014.3 L559.6,1016.1 L557.3,1017.9 L555.0,1019.7 L552.7,1021.6 L550.5,1023.4 L548.2,1025.4 L546.0,1027.3 L543.8,1029.3 L541.7,1031.2 L539.5,1033.2 L537.4,1035.3 L535.3,1037.3 L533.2,1039.4 L531.1,1041.5 L529.0,1043.6 L527.0,1045.8 L525.0,1048.0 L523.0,1050.2 L521.1,1052.4 L519.2,1054.7 L517.2,1056.9 L515.3,1059.2 L513.5,1061.5 L511.6,1063.8 L509.8,1066.2 L508.0,1068.5 L506.2,1070.9 L504.4,1073.3 L502.7,1075.7 L500.9,1078.2 L499.2,1080.6 L497.6,1083.1 L495.9,1085.5 L494.2,1088.0 L492.6,1090.5 L491.0,1093.1 L489.4,1095.6 L487.9,1098.1 L486.4,1100.7 L484.8,1103.3 L483.4,1105.9 L481.9,1108.5 L480.5,1111.1 L479.0,1113.7 L477.6,1116.4 L476.3,1119.0 L474.9,1121.7 L473.5,1124.4 L472.2,1127.1 L470.9,1129.8 L469.6,1132.5 L468.3,1135.2 L467.0,1137.9 L465.8,1140.6 L464.5,1143.4 L463.3,1146.1 L462.1,1148.9 L460.8,1151.7 L459.6,1154.4 L458.5,1157.2 L457.3,1160.0 L456.1,1162.8 L455.0,1165.6 L453.8,1168.4 L452.7,1171.2 L451.5,1174.0 L450.4,1176.8 L449.3,1179.7 L448.2,1182.5 L447.1,1185.3 L446.0,1188.1 L444.9,1191.0 L443.8,1193.8 L442.7,1196.6 L441.6,1199.5 L440.5,1202.3 L439.4,1205.2 L438.3,1208.0 L437.3,1210.9 L436.2,1213.7 L435.1,1216.5 L434.0,1219.4 L432.9,1222.2 L431.8,1225.1 L430.7,1227.9 L429.6,1230.7 L428.5,1233.6 L427.4,1236.4 L426.3,1239.2 L425.2,1242.0 L424.1,1244.9 L423.0,1247.7 L421.9,1250.5 L420.7,1253.3 L419.6,1256.1 L418.5,1258.9 L417.4,1261.7 L416.2,1264.5 L415.1,1267.3 L414.0,1270.1 L412.8,1272.9 L411.7,1275.7 L410.6,1278.5 L409.4,1281.2 L408.3,1284.0 L407.2,1286.8 L406.1,1289.6 L404.9,1292.4 L403.8,1295.2 L402.7,1298.0 L401.6,1300.8 L400.5,1303.6 L399.4,1306.4 L398.3,1309.2 L397.2,1312.0 L396.2,1314.8 L395.1,1317.7 L394.1,1320.5 L393.0,1323.3 L392.0,1326.1 L390.9,1329.0 L389.9,1331.8"/><path d="M654.0,980.4 L651.1,981.1 L648.3,981.8 L645.5,982.5 L642.7,983.3 L639.9,984.1 L637.2,984.9 L634.5,985.8 L631.8,986.7 L629.1,987.6 L626.4,988.6 L623.8,989.6 L621.1,990.6 L618.5,991.7 L615.9,992.8 L613.3,993.9 L610.7,995.1 L608.2,996.3 L605.7,997.5 L603.1,998.8 L600.6,1000.1 L598.1,1001.4 L595.7,1002.7 L593.2,1004.1 L590.8,1005.5 L588.4,1007.0 L586.0,1008.4 L583.6,1009.9 L581.2,1011.4 L578.8,1013.0 L576.5,1014.5 L574.1,1016.1 L571.8,1017.7 L569.5,1019.3 L567.2,1021.0 L564.9,1022.6 L562.6,1024.4 L560.4,1026.1 L558.1,1027.8 L555.9,1029.6 L553.7,1031.4 L551.5,1033.3 L549.4,1035.1 L547.2,1037.0 L545.1,1038.9 L543.0,1040.8 L540.8,1042.8 L538.8,1044.8 L536.7,1046.8 L534.6,1048.8 L532.6,1050.9 L530.7,1053.0 L528.7,1055.1 L526.8,1057.2 L524.9,1059.4 L523.0,1061.6 L521.1,1063.8 L519.2,1066.0 L517.4,1068.3 L515.6,1070.5 L513.8,1072.8 L512.0,1075.1 L510.2,1077.4 L508.5,1079.8 L506.7,1082.1 L505.0,1084.5 L503.3,1086.9 L501.7,1089.3 L500.0,1091.7 L498.4,1094.1 L496.8,1096.6 L495.2,1099.0 L493.6,1101.5 L492.1,1104.0 L490.6,1106.5 L489.1,1109.0 L487.7,1111.6 L486.2,1114.2 L484.8,1116.7 L483.4,1119.3 L482.0,1121.9 L480.6,1124.5 L479.3,1127.2 L477.9,1129.8 L476.6,1132.5 L475.3,1135.1 L474.0,1137.8 L472.7,1140.5 L471.4,1143.2 L470.2,1145.9 L468.9,1148.6 L467.7,1151.3 L466.5,1154.0 L465.2,1156.8 L464.0,1159.5 L462.8,1162.3 L461.7,1165.0 L460.5,1167.8 L459.3,1170.6 L458.2,1173.4 L457.0,1176.2 L455.9,1179.0 L454.7,1181.8 L453.6,1184.6 L452.5,1187.4 L451.4,1190.2 L450.2,1193.0 L449.1,1195.8 L448.0,1198.6 L446.9,1201.5 L445.8,1204.3 L444.7,1207.1 L443.6,1210.0 L442.5,1212.8 L441.4,1215.6 L440.2,1218.5 L439.1,1221.3 L438.0,1224.1 L436.9,1227.0 L435.8,1229.8 L434.7,1232.6 L433.6,1235.5 L432.4,1238.3 L431.3,1241.1 L430.2,1243.9 L429.0,1246.8 L427.9,1249.6 L426.7,1252.4 L425.6,1255.2 L424.4,1258.0 L423.3,1260.8 L422.1,1263.6 L421.0,1266.4 L419.8,1269.2 L418.7,1271.9 L417.5,1274.7 L416.3,1277.5 L415.2,1280.3 L414.0,1283.1 L412.9,1285.8 L411.8,1288.6 L410.6,1291.4 L409.5,1294.2 L408.3,1297.0 L407.2,1299.7 L406.1,1302.5 L405.0,1305.3 L403.9,1308.1 L402.8,1310.9 L401.7,1313.7 L400.6,1316.5 L399.5,1319.3 L398.4,1322.1 L397.4,1324.9 L396.3,1327.7 L395.3,1330.5 L394.2,1333.4"/><path d="M656.2,989.5 L653.4,990.2 L650.7,990.9 L648.0,991.5 L645.4,992.3 L642.7,993.0 L640.1,993.8 L637.5,994.6 L634.9,995.5 L632.3,996.3 L629.8,997.2 L627.2,998.2 L624.7,999.2 L622.2,1000.2 L619.7,1001.2 L617.2,1002.3 L614.7,1003.3 L612.3,1004.5 L609.8,1005.6 L607.4,1006.8 L605.0,1008.0 L602.6,1009.3 L600.2,1010.5 L597.8,1011.8 L595.5,1013.1 L593.1,1014.5 L590.8,1015.9 L588.5,1017.3 L586.2,1018.7 L583.9,1020.2 L581.6,1021.6 L579.3,1023.1 L577.0,1024.6 L574.7,1026.1 L572.5,1027.7 L570.2,1029.2 L568.0,1030.8 L565.8,1032.5 L563.6,1034.1 L561.4,1035.8 L559.2,1037.5 L557.0,1039.2 L554.9,1041.0 L552.8,1042.8 L550.6,1044.6 L548.5,1046.4 L546.4,1048.2 L544.4,1050.1 L542.3,1052.0 L540.2,1053.9 L538.3,1055.9 L536.3,1057.9 L534.4,1060.0 L532.5,1062.0 L530.6,1064.1 L528.7,1066.2 L526.8,1068.4 L525.0,1070.5 L523.1,1072.7 L521.3,1074.9 L519.5,1077.1 L517.7,1079.3 L516.0,1081.5 L514.2,1083.8 L512.5,1086.1 L510.8,1088.4 L509.1,1090.7 L507.5,1093.0 L505.8,1095.4 L504.2,1097.7 L502.6,1100.1 L501.0,1102.5 L499.4,1104.9 L497.8,1107.3 L496.3,1109.7 L494.9,1112.2 L493.4,1114.7 L492.0,1117.2 L490.5,1119.7 L489.1,1122.3 L487.7,1124.8 L486.4,1127.4 L485.0,1130.0 L483.6,1132.6 L482.3,1135.2 L481.0,1137.8 L479.7,1140.4 L478.4,1143.1 L477.1,1145.7 L475.8,1148.4 L474.6,1151.0 L473.3,1153.7 L472.1,1156.4 L470.8,1159.1 L469.6,1161.8 L468.4,1164.6 L467.2,1167.3 L466.0,1170.0 L464.8,1172.8 L463.7,1175.5 L462.5,1178.3 L461.3,1181.1 L460.2,1183.9 L459.0,1186.6 L457.9,1189.4 L456.7,1192.2 L455.6,1195.0 L454.5,1197.8 L453.3,1200.6 L452.2,1203.4 L451.1,1206.3 L449.9,1209.1 L448.8,1211.9 L447.7,1214.7 L446.5,1217.6 L445.4,1220.4 L444.3,1223.2 L443.1,1226.0 L442.0,1228.9 L440.9,1231.7 L439.7,1234.5 L438.6,1237.4 L437.4,1240.2 L436.3,1243.0 L435.1,1245.8 L433.9,1248.7 L432.7,1251.5 L431.6,1254.3 L430.4,1257.1 L429.2,1259.9 L428.0,1262.7 L426.9,1265.5 L425.7,1268.3 L424.5,1271.0 L423.4,1273.8 L422.2,1276.6 L421.0,1279.4 L419.8,1282.1 L418.7,1284.9 L417.5,1287.7 L416.3,1290.4 L415.2,1293.2 L414.0,1296.0 L412.9,1298.7 L411.7,1301.5 L410.6,1304.3 L409.5,1307.0 L408.3,1309.8 L407.2,1312.6 L406.1,1315.3 L405.0,1318.1 L403.9,1320.9 L402.8,1323.7 L401.7,1326.5 L400.7,1329.2 L399.6,1332.0 L398.6,1334.9"/><path d="M658.5,998.7 L655.7,999.3 L653.1,999.9 L650.6,1000.6 L648.0,1001.3 L645.5,1002.0 L643.0,1002.7 L640.5,1003.4 L638.0,1004.2 L635.6,1005.0 L633.1,1005.9 L630.7,1006.8 L628.2,1007.7 L625.8,1008.6 L623.4,1009.6 L621.0,1010.6 L618.7,1011.6 L616.3,1012.6 L614.0,1013.7 L611.6,1014.8 L609.3,1016.0 L607.0,1017.1 L604.7,1018.3 L602.4,1019.5 L600.1,1020.8 L597.9,1022.0 L595.6,1023.3 L593.4,1024.7 L591.1,1026.0 L588.9,1027.4 L586.7,1028.7 L584.4,1030.1 L582.2,1031.5 L580.0,1032.9 L577.7,1034.4 L575.5,1035.8 L573.3,1037.3 L571.2,1038.8 L569.0,1040.4 L566.8,1042.0 L564.7,1043.6 L562.5,1045.2 L560.4,1046.8 L558.3,1048.5 L556.2,1050.2 L554.1,1051.9 L552.0,1053.7 L549.9,1055.4 L547.9,1057.2 L545.8,1059.1 L543.9,1061.0 L542.0,1062.9 L540.0,1064.9 L538.1,1066.9 L536.3,1068.9 L534.4,1070.9 L532.5,1072.9 L530.7,1075.0 L528.9,1077.1 L527.1,1079.2 L525.3,1081.3 L523.5,1083.5 L521.8,1085.7 L520.0,1087.8 L518.3,1090.0 L516.6,1092.3 L514.9,1094.5 L513.2,1096.7 L511.6,1099.0 L510.0,1101.3 L508.3,1103.6 L506.7,1105.9 L505.2,1108.3 L503.6,1110.6 L502.1,1113.0 L500.6,1115.4 L499.1,1117.8 L497.7,1120.3 L496.3,1122.8 L494.9,1125.2 L493.5,1127.7 L492.1,1130.3 L490.7,1132.8 L489.4,1135.3 L488.0,1137.9 L486.7,1140.4 L485.4,1143.0 L484.1,1145.6 L482.8,1148.2 L481.5,1150.9 L480.2,1153.5 L478.9,1156.1 L477.7,1158.8 L476.4,1161.5 L475.2,1164.2 L474.0,1166.8 L472.8,1169.5 L471.6,1172.3 L470.4,1175.0 L469.2,1177.7 L468.0,1180.5 L466.8,1183.2 L465.6,1186.0 L464.5,1188.7 L463.3,1191.5 L462.1,1194.3 L461.0,1197.0 L459.8,1199.8 L458.7,1202.6 L457.5,1205.4 L456.3,1208.2 L455.2,1211.0 L454.0,1213.8 L452.9,1216.7 L451.7,1219.5 L450.6,1222.3 L449.4,1225.1 L448.3,1227.9 L447.1,1230.8 L445.9,1233.6 L444.8,1236.4 L443.6,1239.3 L442.4,1242.1 L441.2,1244.9 L440.0,1247.7 L438.8,1250.6 L437.6,1253.4 L436.4,1256.2 L435.2,1259.0 L434.0,1261.8 L432.8,1264.6 L431.6,1267.4 L430.4,1270.1 L429.2,1272.9 L428.0,1275.7 L426.9,1278.4 L425.7,1281.2 L424.5,1284.0 L423.3,1286.7 L422.1,1289.5 L420.9,1292.2 L419.7,1295.0 L418.6,1297.7 L417.4,1300.5 L416.2,1303.2 L415.1,1306.0 L413.9,1308.7 L412.8,1311.5 L411.7,1314.2 L410.5,1317.0 L409.4,1319.7 L408.3,1322.5 L407.2,1325.3 L406.1,1328.0 L405.0,1330.8 L403.9,1333.6 L402.9,1336.4"/><path d="M660.7,1007.9 L658.0,1008.5 L655.5,1009.0 L653.1,1009.6 L650.7,1010.2 L648.3,1010.9 L645.9,1011.6 L643.5,1012.3 L641.1,1013.0 L638.8,1013.8 L636.4,1014.5 L634.1,1015.4 L631.8,1016.2 L629.5,1017.1 L627.2,1018.0 L624.9,1018.9 L622.6,1019.8 L620.4,1020.8 L618.1,1021.8 L615.9,1022.8 L613.6,1023.9 L611.4,1025.0 L609.2,1026.1 L607.0,1027.2 L604.8,1028.4 L602.6,1029.6 L600.4,1030.8 L598.3,1032.1 L596.1,1033.3 L593.9,1034.6 L591.7,1035.9 L589.6,1037.1 L587.4,1038.4 L585.2,1039.7 L583.0,1041.1 L580.9,1042.4 L578.7,1043.8 L576.6,1045.2 L574.4,1046.7 L572.3,1048.1 L570.2,1049.6 L568.0,1051.2 L565.9,1052.7 L563.8,1054.3 L561.8,1055.9 L559.7,1057.5 L557.6,1059.1 L555.5,1060.8 L553.5,1062.5 L551.4,1064.2 L549.5,1066.0 L547.6,1067.9 L545.7,1069.8 L543.8,1071.7 L542.0,1073.6 L540.1,1075.6 L538.3,1077.5 L536.5,1079.5 L534.6,1081.5 L532.8,1083.6 L531.1,1085.6 L529.3,1087.7 L527.5,1089.8 L525.8,1091.9 L524.1,1094.0 L522.4,1096.1 L520.7,1098.3 L519.0,1100.5 L517.4,1102.7 L515.7,1104.9 L514.1,1107.1 L512.5,1109.4 L510.9,1111.6 L509.3,1113.9 L507.8,1116.2 L506.3,1118.6 L504.9,1121.0 L503.4,1123.3 L502.0,1125.8 L500.6,1128.2 L499.2,1130.6 L497.8,1133.1 L496.5,1135.6 L495.1,1138.1 L493.7,1140.6 L492.4,1143.1 L491.1,1145.7 L489.8,1148.2 L488.4,1150.8 L487.1,1153.4 L485.9,1156.0 L484.6,1158.6 L483.3,1161.2 L482.0,1163.8 L480.8,1166.5 L479.5,1169.1 L478.3,1171.8 L477.1,1174.5 L475.9,1177.2 L474.7,1179.9 L473.5,1182.6 L472.3,1185.3 L471.1,1188.1 L469.9,1190.8 L468.7,1193.5 L467.5,1196.3 L466.3,1199.1 L465.2,1201.8 L464.0,1204.6 L462.8,1207.4 L461.6,1210.2 L460.4,1213.0 L459.3,1215.8 L458.1,1218.6 L456.9,1221.4 L455.7,1224.2 L454.6,1227.0 L453.4,1229.9 L452.2,1232.7 L451.0,1235.5 L449.8,1238.3 L448.6,1241.2 L447.4,1244.0 L446.2,1246.8 L444.9,1249.6 L443.7,1252.5 L442.5,1255.3 L441.3,1258.1 L440.0,1260.9 L438.8,1263.7 L437.6,1266.5 L436.4,1269.2 L435.2,1272.0 L434.0,1274.8 L432.7,1277.5 L431.5,1280.3 L430.3,1283.1 L429.1,1285.8 L427.9,1288.6 L426.7,1291.3 L425.5,1294.0 L424.3,1296.8 L423.1,1299.5 L421.9,1302.3 L420.7,1305.0 L419.6,1307.7 L418.4,1310.4 L417.2,1313.2 L416.1,1315.9 L414.9,1318.6 L413.8,1321.4 L412.7,1324.1 L411.6,1326.9 L410.5,1329.6 L409.4,1332.3 L408.3,1335.1 L407.2,1337.9"/><path d="M663.0,1017.0 L660.3,1017.6 L657.9,1018.1 L655.6,1018.7 L653.3,1019.2 L651.1,1019.8 L648.8,1020.4 L646.5,1021.1 L644.3,1021.8 L642.0,1022.5 L639.8,1023.2 L637.6,1023.9 L635.3,1024.7 L633.1,1025.5 L630.9,1026.3 L628.8,1027.2 L626.6,1028.1 L624.4,1029.0 L622.3,1029.9 L620.1,1030.9 L618.0,1031.8 L615.8,1032.9 L613.7,1033.9 L611.6,1034.9 L609.4,1036.0 L607.3,1037.1 L605.2,1038.3 L603.1,1039.4 L601.1,1040.6 L599.0,1041.8 L596.8,1043.0 L594.7,1044.1 L592.6,1045.3 L590.4,1046.5 L588.3,1047.8 L586.2,1049.0 L584.1,1050.3 L581.9,1051.6 L579.8,1053.0 L577.7,1054.3 L575.6,1055.7 L573.5,1057.1 L571.5,1058.6 L569.4,1060.0 L567.3,1061.5 L565.2,1063.0 L563.2,1064.6 L561.1,1066.1 L559.1,1067.7 L557.0,1069.3 L555.1,1071.1 L553.3,1072.9 L551.4,1074.7 L549.5,1076.5 L547.7,1078.3 L545.8,1080.2 L544.0,1082.1 L542.2,1084.0 L540.4,1085.9 L538.6,1087.9 L536.8,1089.9 L535.1,1091.9 L533.3,1093.9 L531.6,1095.9 L529.9,1097.9 L528.2,1100.0 L526.5,1102.1 L524.8,1104.2 L523.2,1106.3 L521.5,1108.5 L519.9,1110.6 L518.3,1112.8 L516.7,1115.0 L515.1,1117.2 L513.6,1119.5 L512.1,1121.8 L510.6,1124.1 L509.2,1126.4 L507.8,1128.8 L506.4,1131.1 L504.9,1133.5 L503.6,1136.0 L502.2,1138.4 L500.8,1140.8 L499.5,1143.3 L498.1,1145.8 L496.8,1148.3 L495.4,1150.8 L494.1,1153.3 L492.8,1155.9 L491.5,1158.4 L490.2,1161.0 L488.9,1163.6 L487.6,1166.2 L486.4,1168.8 L485.1,1171.4 L483.9,1174.0 L482.6,1176.7 L481.4,1179.4 L480.2,1182.1 L478.9,1184.7 L477.7,1187.4 L476.5,1190.2 L475.3,1192.9 L474.1,1195.6 L472.9,1198.3 L471.7,1201.1 L470.5,1203.9 L469.3,1206.6 L468.1,1209.4 L466.9,1212.2 L465.7,1214.9 L464.5,1217.7 L463.3,1220.5 L462.1,1223.3 L460.9,1226.1 L459.7,1228.9 L458.5,1231.8 L457.3,1234.6 L456.0,1237.4 L454.8,1240.2 L453.6,1243.0 L452.4,1245.9 L451.1,1248.7 L449.9,1251.5 L448.6,1254.4 L447.4,1257.2 L446.1,1260.0 L444.9,1262.8 L443.6,1265.6 L442.4,1268.3 L441.1,1271.1 L439.9,1273.9 L438.7,1276.7 L437.4,1279.4 L436.2,1282.2 L435.0,1284.9 L433.7,1287.7 L432.5,1290.4 L431.3,1293.1 L430.1,1295.8 L428.9,1298.6 L427.7,1301.3 L426.4,1304.0 L425.3,1306.7 L424.1,1309.4 L422.9,1312.2 L421.7,1314.9 L420.5,1317.6 L419.4,1320.3 L418.2,1323.0 L417.1,1325.7 L415.9,1328.4 L414.8,1331.2 L413.7,1333.9 L412.6,1336.6 L411.5,1339.4"/><path d="M665.2,1026.2 L662.6,1026.7 L660.4,1027.2 L658.2,1027.7 L656.0,1028.2 L653.8,1028.8 L651.7,1029.3 L649.5,1029.9 L647.4,1030.5 L645.3,1031.2 L643.1,1031.8 L641.0,1032.5 L638.9,1033.2 L636.8,1034.0 L634.7,1034.7 L632.6,1035.5 L630.5,1036.3 L628.5,1037.1 L626.4,1038.0 L624.3,1038.9 L622.3,1039.8 L620.2,1040.7 L618.2,1041.7 L616.1,1042.7 L614.1,1043.7 L612.1,1044.7 L610.1,1045.7 L608.0,1046.8 L606.0,1047.9 L604.0,1049.0 L601.9,1050.1 L599.8,1051.1 L597.7,1052.2 L595.7,1053.3 L593.6,1054.4 L591.5,1055.6 L589.4,1056.8 L587.3,1058.0 L585.3,1059.2 L583.2,1060.5 L581.1,1061.8 L579.1,1063.1 L577.0,1064.4 L574.9,1065.8 L572.9,1067.2 L570.8,1068.6 L568.8,1070.0 L566.7,1071.5 L564.7,1073.0 L562.7,1074.5 L560.8,1076.1 L558.9,1077.8 L557.1,1079.6 L555.2,1081.3 L553.4,1083.1 L551.6,1084.9 L549.7,1086.7 L547.9,1088.5 L546.2,1090.4 L544.4,1092.2 L542.6,1094.1 L540.9,1096.0 L539.1,1098.0 L537.4,1099.9 L535.7,1101.9 L534.0,1103.9 L532.3,1105.9 L530.6,1107.9 L528.9,1110.0 L527.3,1112.1 L525.7,1114.1 L524.0,1116.2 L522.4,1118.4 L520.8,1120.5 L519.3,1122.7 L517.8,1124.9 L516.4,1127.2 L514.9,1129.5 L513.5,1131.8 L512.1,1134.1 L510.7,1136.4 L509.3,1138.8 L507.9,1141.2 L506.5,1143.6 L505.2,1146.0 L503.8,1148.4 L502.5,1150.9 L501.1,1153.4 L499.8,1155.8 L498.5,1158.3 L497.1,1160.9 L495.8,1163.4 L494.5,1166.0 L493.2,1168.5 L492.0,1171.1 L490.7,1173.7 L489.4,1176.3 L488.2,1178.9 L486.9,1181.6 L485.7,1184.2 L484.4,1186.9 L483.2,1189.6 L482.0,1192.3 L480.7,1195.0 L479.5,1197.7 L478.3,1200.4 L477.1,1203.1 L475.8,1205.9 L474.6,1208.6 L473.4,1211.4 L472.2,1214.1 L471.0,1216.9 L469.7,1219.7 L468.5,1222.5 L467.3,1225.3 L466.1,1228.1 L464.8,1230.9 L463.6,1233.7 L462.4,1236.5 L461.1,1239.3 L459.9,1242.1 L458.6,1244.9 L457.3,1247.8 L456.1,1250.6 L454.8,1253.4 L453.5,1256.3 L452.2,1259.1 L451.0,1261.9 L449.7,1264.7 L448.4,1267.5 L447.2,1270.2 L445.9,1273.0 L444.6,1275.8 L443.4,1278.5 L442.1,1281.3 L440.9,1284.0 L439.6,1286.8 L438.4,1289.5 L437.1,1292.2 L435.9,1294.9 L434.7,1297.7 L433.4,1300.4 L432.2,1303.1 L431.0,1305.8 L429.8,1308.5 L428.6,1311.2 L427.4,1313.9 L426.2,1316.6 L425.0,1319.3 L423.8,1322.0 L422.6,1324.7 L421.5,1327.3 L420.3,1330.0 L419.2,1332.7 L418.1,1335.4 L416.9,1338.1 L415.8,1340.9"/><path d="M667.4,1035.3 L664.9,1035.9 L662.8,1036.3 L660.7,1036.7 L658.7,1037.2 L656.6,1037.7 L654.6,1038.2 L652.5,1038.7 L650.5,1039.3 L648.5,1039.9 L646.5,1040.5 L644.5,1041.1 L642.5,1041.7 L640.5,1042.4 L638.5,1043.1 L636.5,1043.8 L634.5,1044.6 L632.5,1045.3 L630.5,1046.1 L628.6,1046.9 L626.6,1047.7 L624.6,1048.6 L622.7,1049.5 L620.7,1050.4 L618.8,1051.3 L616.8,1052.2 L614.9,1053.2 L612.9,1054.2 L611.0,1055.2 L609.0,1056.3 L607.0,1057.2 L605.0,1058.1 L602.9,1059.1 L600.9,1060.1 L598.9,1061.1 L596.8,1062.2 L594.8,1063.3 L592.7,1064.4 L590.7,1065.5 L588.6,1066.7 L586.6,1067.8 L584.6,1069.1 L582.5,1070.3 L580.5,1071.5 L578.4,1072.8 L576.4,1074.1 L574.4,1075.5 L572.3,1076.8 L570.3,1078.2 L568.3,1079.6 L566.4,1081.2 L564.6,1082.8 L562.7,1084.5 L560.9,1086.1 L559.1,1087.8 L557.3,1089.5 L555.5,1091.3 L553.7,1093.0 L551.9,1094.8 L550.1,1096.6 L548.4,1098.4 L546.6,1100.2 L544.9,1102.1 L543.2,1104.0 L541.5,1105.9 L539.8,1107.8 L538.1,1109.7 L536.4,1111.7 L534.7,1113.7 L533.1,1115.6 L531.4,1117.7 L529.8,1119.7 L528.2,1121.7 L526.6,1123.8 L525.0,1125.9 L523.6,1128.1 L522.1,1130.3 L520.7,1132.5 L519.3,1134.8 L517.8,1137.1 L516.4,1139.3 L515.0,1141.7 L513.6,1144.0 L512.2,1146.3 L510.9,1148.7 L509.5,1151.1 L508.1,1153.5 L506.8,1155.9 L505.5,1158.4 L504.1,1160.8 L502.8,1163.3 L501.5,1165.8 L500.2,1168.3 L498.8,1170.9 L497.5,1173.4 L496.2,1176.0 L495.0,1178.6 L493.7,1181.2 L492.4,1183.8 L491.2,1186.4 L489.9,1189.0 L488.7,1191.7 L487.4,1194.4 L486.2,1197.0 L484.9,1199.7 L483.7,1202.4 L482.4,1205.1 L481.2,1207.9 L480.0,1210.6 L478.7,1213.3 L477.5,1216.1 L476.2,1218.9 L475.0,1221.6 L473.7,1224.4 L472.5,1227.2 L471.2,1230.0 L470.0,1232.8 L468.7,1235.6 L467.4,1238.4 L466.2,1241.2 L464.9,1244.0 L463.6,1246.8 L462.3,1249.7 L461.0,1252.5 L459.7,1255.3 L458.4,1258.2 L457.1,1261.0 L455.8,1263.8 L454.5,1266.6 L453.2,1269.3 L451.9,1272.1 L450.7,1274.9 L449.4,1277.7 L448.1,1280.4 L446.8,1283.1 L445.6,1285.9 L444.3,1288.6 L443.0,1291.3 L441.7,1294.0 L440.5,1296.8 L439.2,1299.5 L438.0,1302.2 L436.7,1304.9 L435.5,1307.5 L434.3,1310.2 L433.0,1312.9 L431.8,1315.6 L430.6,1318.3 L429.4,1320.9 L428.2,1323.6 L427.0,1326.3 L425.9,1329.0 L424.7,1331.6 L423.5,1334.3 L422.4,1337.0 L421.3,1339.6 L420.1,1342.4"/><path d="M669.7,1044.5 L667.2,1045.0 L665.2,1045.4 L663.3,1045.8 L661.3,1046.2 L659.4,1046.6 L657.5,1047.1 L655.5,1047.6 L653.6,1048.1 L651.7,1048.6 L649.8,1049.1 L647.9,1049.7 L646.0,1050.3 L644.1,1050.9 L642.2,1051.5 L640.3,1052.1 L638.5,1052.8 L636.6,1053.5 L634.7,1054.2 L632.8,1054.9 L630.9,1055.7 L629.1,1056.4 L627.2,1057.2 L625.3,1058.1 L623.4,1058.9 L621.6,1059.8 L619.7,1060.7 L617.8,1061.6 L616.0,1062.5 L614.1,1063.5 L612.1,1064.3 L610.1,1065.1 L608.1,1066.0 L606.1,1066.9 L604.1,1067.8 L602.1,1068.8 L600.1,1069.8 L598.1,1070.8 L596.1,1071.8 L594.1,1072.8 L592.1,1073.9 L590.1,1075.0 L588.0,1076.1 L586.0,1077.3 L584.0,1078.5 L582.0,1079.7 L579.9,1080.9 L577.9,1082.2 L575.9,1083.5 L573.9,1084.8 L572.0,1086.3 L570.2,1087.8 L568.4,1089.4 L566.6,1090.9 L564.8,1092.6 L563.0,1094.2 L561.2,1095.8 L559.4,1097.5 L557.7,1099.2 L555.9,1100.9 L554.2,1102.7 L552.4,1104.4 L550.7,1106.2 L549.0,1108.0 L547.2,1109.8 L545.5,1111.7 L543.8,1113.5 L542.2,1115.4 L540.5,1117.3 L538.8,1119.2 L537.2,1121.2 L535.6,1123.1 L533.9,1125.1 L532.3,1127.1 L530.8,1129.2 L529.3,1131.3 L527.9,1133.4 L526.4,1135.6 L525.0,1137.8 L523.6,1140.0 L522.2,1142.2 L520.8,1144.5 L519.4,1146.8 L518.0,1149.1 L516.6,1151.4 L515.2,1153.8 L513.8,1156.1 L512.5,1158.5 L511.1,1160.9 L509.8,1163.3 L508.4,1165.8 L507.1,1168.2 L505.8,1170.7 L504.4,1173.2 L503.1,1175.7 L501.8,1178.3 L500.5,1180.8 L499.2,1183.4 L497.9,1186.0 L496.7,1188.6 L495.4,1191.2 L494.1,1193.8 L492.9,1196.5 L491.6,1199.1 L490.3,1201.8 L489.1,1204.5 L487.8,1207.2 L486.5,1209.9 L485.3,1212.6 L484.0,1215.3 L482.7,1218.1 L481.5,1220.8 L480.2,1223.6 L478.9,1226.3 L477.7,1229.1 L476.4,1231.9 L475.1,1234.7 L473.8,1237.5 L472.5,1240.3 L471.2,1243.1 L469.9,1245.9 L468.6,1248.7 L467.3,1251.6 L466.0,1254.4 L464.7,1257.2 L463.3,1260.1 L462.0,1262.9 L460.7,1265.7 L459.3,1268.5 L458.0,1271.2 L456.7,1274.0 L455.4,1276.8 L454.1,1279.5 L452.8,1282.3 L451.5,1285.0 L450.2,1287.7 L448.9,1290.5 L447.6,1293.2 L446.4,1295.9 L445.1,1298.6 L443.8,1301.3 L442.5,1303.9 L441.3,1306.6 L440.0,1309.3 L438.8,1312.0 L437.5,1314.6 L436.3,1317.3 L435.1,1320.0 L433.9,1322.6 L432.7,1325.3 L431.5,1327.9 L430.3,1330.6 L429.1,1333.2 L427.9,1335.9 L426.8,1338.5 L425.6,1341.2 L424.4,1343.9"/><path d="M671.9,1053.7 L669.5,1054.1 L667.6,1054.5 L665.8,1054.8 L664.0,1055.2 L662.2,1055.6 L660.3,1056.0 L658.5,1056.4 L656.7,1056.8 L654.9,1057.3 L653.2,1057.8 L651.4,1058.3 L649.6,1058.8 L647.8,1059.3 L646.0,1059.9 L644.2,1060.4 L642.4,1061.0 L640.6,1061.6 L638.8,1062.3 L637.1,1062.9 L635.3,1063.6 L633.5,1064.3 L631.7,1065.0 L629.9,1065.8 L628.1,1066.5 L626.3,1067.3 L624.5,1068.1 L622.7,1069.0 L620.9,1069.8 L619.1,1070.7 L617.2,1071.4 L615.3,1072.1 L613.3,1072.9 L611.4,1073.7 L609.4,1074.5 L607.4,1075.4 L605.5,1076.2 L603.5,1077.1 L601.5,1078.1 L599.5,1079.0 L597.6,1080.0 L595.6,1081.0 L593.6,1082.0 L591.6,1083.1 L589.6,1084.1 L587.5,1085.2 L585.5,1086.4 L583.5,1087.5 L581.5,1088.7 L579.5,1089.9 L577.6,1091.3 L575.8,1092.8 L574.1,1094.3 L572.3,1095.8 L570.5,1097.3 L568.7,1098.8 L566.9,1100.4 L565.2,1102.0 L563.4,1103.6 L561.7,1105.3 L559.9,1106.9 L558.2,1108.6 L556.5,1110.3 L554.7,1112.0 L553.0,1113.8 L551.3,1115.5 L549.6,1117.3 L548.0,1119.1 L546.3,1121.0 L544.6,1122.8 L543.0,1124.7 L541.3,1126.6 L539.7,1128.5 L538.1,1130.4 L536.5,1132.4 L535.1,1134.5 L533.6,1136.5 L532.2,1138.7 L530.7,1140.8 L529.3,1143.0 L527.9,1145.1 L526.5,1147.4 L525.1,1149.6 L523.7,1151.8 L522.3,1154.1 L520.9,1156.4 L519.5,1158.7 L518.2,1161.1 L516.8,1163.4 L515.4,1165.8 L514.1,1168.2 L512.7,1170.7 L511.4,1173.1 L510.0,1175.6 L508.7,1178.0 L507.4,1180.5 L506.1,1183.1 L504.8,1185.6 L503.5,1188.2 L502.2,1190.7 L500.9,1193.3 L499.6,1195.9 L498.3,1198.6 L497.0,1201.2 L495.7,1203.9 L494.5,1206.5 L493.2,1209.2 L491.9,1211.9 L490.6,1214.6 L489.3,1217.3 L488.0,1220.0 L486.7,1222.8 L485.4,1225.5 L484.2,1228.3 L482.9,1231.0 L481.6,1233.8 L480.2,1236.6 L478.9,1239.4 L477.6,1242.2 L476.3,1245.0 L475.0,1247.8 L473.6,1250.6 L472.3,1253.5 L470.9,1256.3 L469.6,1259.1 L468.2,1261.9 L466.9,1264.8 L465.5,1267.6 L464.2,1270.3 L462.8,1273.1 L461.5,1275.9 L460.2,1278.7 L458.9,1281.4 L457.5,1284.2 L456.2,1286.9 L454.9,1289.6 L453.6,1292.3 L452.3,1295.0 L451.0,1297.7 L449.7,1300.4 L448.4,1303.1 L447.1,1305.7 L445.8,1308.4 L444.6,1311.1 L443.3,1313.7 L442.0,1316.4 L440.8,1319.0 L439.5,1321.7 L438.3,1324.3 L437.1,1326.9 L435.9,1329.6 L434.7,1332.2 L433.5,1334.8 L432.3,1337.4 L431.1,1340.1 L429.9,1342.7 L428.8,1345.4"/><path d="M674.2,1062.8 L671.8,1063.3 L670.0,1063.6 L668.3,1063.9 L666.6,1064.2 L664.9,1064.5 L663.2,1064.9 L661.6,1065.2 L659.9,1065.6 L658.2,1066.0 L656.5,1066.4 L654.8,1066.8 L653.1,1067.3 L651.4,1067.8 L649.8,1068.3 L648.1,1068.8 L646.4,1069.3 L644.7,1069.8 L643.0,1070.4 L641.3,1071.0 L639.6,1071.6 L637.9,1072.2 L636.2,1072.8 L634.5,1073.5 L632.8,1074.2 L631.1,1074.9 L629.3,1075.6 L627.6,1076.3 L625.9,1077.1 L624.1,1077.9 L622.3,1078.5 L620.4,1079.2 L618.5,1079.8 L616.6,1080.5 L614.7,1081.2 L612.8,1082.0 L610.8,1082.7 L608.9,1083.5 L607.0,1084.3 L605.0,1085.2 L603.0,1086.1 L601.1,1086.9 L599.1,1087.9 L597.1,1088.8 L595.1,1089.8 L593.1,1090.8 L591.1,1091.8 L589.1,1092.9 L587.1,1093.9 L585.1,1095.0 L583.3,1096.4 L581.5,1097.8 L579.7,1099.2 L578.0,1100.6 L576.2,1102.0 L574.4,1103.5 L572.7,1105.0 L570.9,1106.5 L569.2,1108.0 L567.4,1109.6 L565.7,1111.2 L564.0,1112.8 L562.2,1114.4 L560.5,1116.1 L558.8,1117.7 L557.1,1119.4 L555.4,1121.1 L553.7,1122.9 L552.1,1124.6 L550.4,1126.4 L548.7,1128.2 L547.1,1130.0 L545.5,1131.8 L543.8,1133.7 L542.3,1135.6 L540.8,1137.6 L539.4,1139.7 L537.9,1141.7 L536.5,1143.8 L535.1,1145.9 L533.6,1148.1 L532.2,1150.2 L530.8,1152.4 L529.4,1154.6 L528.0,1156.8 L526.6,1159.1 L525.2,1161.4 L523.8,1163.7 L522.5,1166.0 L521.1,1168.3 L519.7,1170.7 L518.4,1173.1 L517.0,1175.5 L515.6,1177.9 L514.3,1180.4 L512.9,1182.8 L511.6,1185.3 L510.3,1187.8 L509.0,1190.4 L507.7,1192.9 L506.4,1195.5 L505.1,1198.1 L503.8,1200.7 L502.4,1203.3 L501.1,1205.9 L499.8,1208.6 L498.5,1211.2 L497.2,1213.9 L495.9,1216.6 L494.6,1219.3 L493.3,1222.0 L492.0,1224.7 L490.7,1227.5 L489.4,1230.2 L488.0,1233.0 L486.7,1235.7 L485.4,1238.5 L484.0,1241.3 L482.7,1244.1 L481.4,1246.9 L480.0,1249.7 L478.6,1252.5 L477.3,1255.4 L475.9,1258.2 L474.5,1261.0 L473.1,1263.8 L471.7,1266.7 L470.4,1269.5 L469.0,1272.2 L467.6,1275.0 L466.3,1277.8 L464.9,1280.5 L463.6,1283.3 L462.3,1286.0 L460.9,1288.7 L459.6,1291.5 L458.2,1294.2 L456.9,1296.9 L455.6,1299.5 L454.3,1302.2 L453.0,1304.9 L451.7,1307.5 L450.4,1310.2 L449.1,1312.8 L447.8,1315.5 L446.5,1318.1 L445.3,1320.7 L444.0,1323.3 L442.7,1326.0 L441.5,1328.6 L440.3,1331.2 L439.0,1333.8 L437.8,1336.4 L436.6,1339.0 L435.4,1341.6 L434.3,1344.2 L433.1,1346.9"/><path d="M676.4,1072.0 L674.0,1072.4 L672.5,1072.6 L670.9,1072.9 L669.3,1073.2 L667.7,1073.4 L666.1,1073.7 L664.6,1074.0 L663.0,1074.4 L661.4,1074.7 L659.8,1075.1 L658.3,1075.4 L656.7,1075.8 L655.1,1076.2 L653.5,1076.6 L651.9,1077.1 L650.3,1077.5 L648.7,1078.0 L647.1,1078.5 L645.5,1079.0 L643.9,1079.5 L642.3,1080.0 L640.7,1080.6 L639.1,1081.2 L637.4,1081.8 L635.8,1082.4 L634.2,1083.1 L632.5,1083.7 L630.9,1084.4 L629.2,1085.1 L627.4,1085.6 L625.5,1086.2 L623.7,1086.7 L621.8,1087.3 L620.0,1087.9 L618.1,1088.6 L616.2,1089.2 L614.3,1089.9 L612.4,1090.6 L610.5,1091.4 L608.5,1092.1 L606.6,1092.9 L604.6,1093.7 L602.6,1094.6 L600.7,1095.4 L598.7,1096.3 L596.7,1097.3 L594.7,1098.2 L592.7,1099.2 L590.7,1100.2 L588.9,1101.4 L587.1,1102.7 L585.4,1104.1 L583.6,1105.4 L581.9,1106.8 L580.1,1108.1 L578.4,1109.6 L576.7,1111.0 L574.9,1112.5 L573.2,1113.9 L571.5,1115.4 L569.7,1117.0 L568.0,1118.5 L566.3,1120.1 L564.6,1121.7 L562.9,1123.3 L561.2,1125.0 L559.5,1126.6 L557.8,1128.3 L556.2,1130.0 L554.5,1131.7 L552.9,1133.5 L551.2,1135.2 L549.6,1137.0 L548.0,1138.9 L546.5,1140.8 L545.1,1142.8 L543.7,1144.8 L542.2,1146.8 L540.8,1148.9 L539.4,1151.0 L538.0,1153.1 L536.5,1155.2 L535.1,1157.4 L533.7,1159.5 L532.3,1161.7 L530.9,1164.0 L529.5,1166.2 L528.1,1168.5 L526.8,1170.8 L525.4,1173.1 L524.0,1175.5 L522.6,1177.9 L521.2,1180.3 L519.9,1182.7 L518.5,1185.1 L517.2,1187.6 L515.8,1190.0 L514.5,1192.6 L513.2,1195.1 L511.8,1197.6 L510.5,1200.2 L509.2,1202.8 L507.9,1205.4 L506.6,1208.0 L505.2,1210.6 L503.9,1213.2 L502.6,1215.9 L501.2,1218.6 L499.9,1221.3 L498.6,1224.0 L497.3,1226.7 L495.9,1229.4 L494.6,1232.1 L493.2,1234.9 L491.9,1237.7 L490.5,1240.4 L489.2,1243.2 L487.8,1246.0 L486.4,1248.8 L485.0,1251.6 L483.7,1254.4 L482.3,1257.3 L480.9,1260.1 L479.4,1262.9 L478.0,1265.7 L476.6,1268.6 L475.2,1271.3 L473.8,1274.1 L472.4,1276.9 L471.1,1279.7 L469.7,1282.4 L468.3,1285.2 L467.0,1287.9 L465.6,1290.6 L464.3,1293.3 L462.9,1296.0 L461.6,1298.7 L460.2,1301.4 L458.9,1304.0 L457.5,1306.7 L456.2,1309.3 L454.9,1312.0 L453.6,1314.6 L452.3,1317.2 L451.0,1319.8 L449.7,1322.4 L448.4,1325.0 L447.2,1327.6 L445.9,1330.2 L444.7,1332.8 L443.4,1335.4 L442.2,1338.0 L441.0,1340.6 L439.8,1343.2 L438.6,1345.7 L437.4,1348.4"/><path d="M678.6,1081.1 L676.3,1081.5 L674.9,1081.7 L673.4,1081.9 L672.0,1082.1 L670.5,1082.4 L669.0,1082.6 L667.6,1082.9 L666.1,1083.1 L664.6,1083.4 L663.2,1083.7 L661.7,1084.0 L660.2,1084.3 L658.8,1084.7 L657.3,1085.0 L655.8,1085.4 L654.3,1085.8 L652.8,1086.2 L651.3,1086.6 L649.8,1087.0 L648.3,1087.4 L646.7,1087.9 L645.2,1088.4 L643.7,1088.9 L642.1,1089.4 L640.5,1090.0 L639.0,1090.5 L637.4,1091.1 L635.8,1091.7 L634.2,1092.3 L632.4,1092.7 L630.7,1093.2 L628.9,1093.6 L627.1,1094.1 L625.2,1094.6 L623.4,1095.2 L621.6,1095.7 L619.7,1096.3 L617.8,1096.9 L615.9,1097.5 L614.0,1098.2 L612.1,1098.9 L610.1,1099.6 L608.2,1100.3 L606.2,1101.1 L604.3,1101.9 L602.3,1102.7 L600.3,1103.5 L598.3,1104.4 L596.3,1105.3 L594.5,1106.5 L592.8,1107.7 L591.1,1108.9 L589.3,1110.2 L587.6,1111.5 L585.9,1112.8 L584.1,1114.1 L582.4,1115.5 L580.7,1116.9 L579.0,1118.3 L577.2,1119.7 L575.5,1121.2 L573.8,1122.6 L572.1,1124.1 L570.4,1125.7 L568.7,1127.2 L567.0,1128.8 L565.3,1130.3 L563.6,1132.0 L561.9,1133.6 L560.3,1135.2 L558.6,1136.9 L557.0,1138.6 L555.3,1140.3 L553.7,1142.1 L552.3,1144.0 L550.8,1145.9 L549.4,1147.9 L548.0,1149.8 L546.5,1151.8 L545.1,1153.9 L543.7,1155.9 L542.3,1158.0 L540.8,1160.1 L539.4,1162.2 L538.0,1164.4 L536.6,1166.6 L535.2,1168.8 L533.8,1171.0 L532.4,1173.3 L531.0,1175.6 L529.6,1177.9 L528.2,1180.2 L526.8,1182.6 L525.5,1185.0 L524.1,1187.4 L522.7,1189.8 L521.4,1192.3 L520.0,1194.8 L518.7,1197.3 L517.3,1199.8 L516.0,1202.3 L514.6,1204.9 L513.3,1207.4 L512.0,1210.0 L510.6,1212.6 L509.3,1215.3 L507.9,1217.9 L506.6,1220.6 L505.2,1223.2 L503.9,1225.9 L502.5,1228.6 L501.2,1231.4 L499.8,1234.1 L498.4,1236.8 L497.0,1239.6 L495.7,1242.3 L494.3,1245.1 L492.9,1247.9 L491.5,1250.7 L490.1,1253.5 L488.7,1256.3 L487.2,1259.2 L485.8,1262.0 L484.4,1264.8 L482.9,1267.6 L481.5,1270.5 L480.1,1273.2 L478.6,1276.0 L477.2,1278.8 L475.8,1281.6 L474.5,1284.3 L473.1,1287.1 L471.7,1289.8 L470.3,1292.5 L468.9,1295.2 L467.6,1297.9 L466.2,1300.5 L464.8,1303.2 L463.5,1305.8 L462.1,1308.5 L460.8,1311.1 L459.5,1313.7 L458.1,1316.4 L456.8,1319.0 L455.5,1321.6 L454.2,1324.2 L452.9,1326.7 L451.6,1329.3 L450.4,1331.9 L449.1,1334.5 L447.8,1337.0 L446.6,1339.6 L445.4,1342.1 L444.1,1344.7 L442.9,1347.3 L441.7,1349.9"/><path d="M680.9,1090.3 L678.6,1090.7 L677.3,1090.8 L676.0,1091.0 L674.6,1091.1 L673.3,1091.3 L671.9,1091.5 L670.6,1091.7 L669.2,1091.9 L667.9,1092.1 L666.5,1092.4 L665.2,1092.6 L663.8,1092.9 L662.4,1093.1 L661.0,1093.4 L659.6,1093.7 L658.3,1094.0 L656.8,1094.3 L655.4,1094.7 L654.0,1095.0 L652.6,1095.4 L651.1,1095.8 L649.7,1096.2 L648.2,1096.6 L646.8,1097.0 L645.3,1097.5 L643.8,1098.0 L642.3,1098.5 L640.8,1099.0 L639.2,1099.5 L637.5,1099.8 L635.8,1100.2 L634.1,1100.5 L632.3,1100.9 L630.5,1101.3 L628.7,1101.7 L626.9,1102.2 L625.1,1102.7 L623.2,1103.2 L621.4,1103.7 L619.5,1104.3 L617.6,1104.8 L615.7,1105.5 L613.7,1106.1 L611.8,1106.7 L609.8,1107.4 L607.9,1108.2 L605.9,1108.9 L603.9,1109.7 L601.9,1110.5 L600.2,1111.6 L598.4,1112.7 L596.7,1113.8 L595.0,1115.0 L593.3,1116.2 L591.6,1117.5 L589.9,1118.7 L588.1,1120.0 L586.4,1121.3 L584.7,1122.6 L583.0,1124.0 L581.3,1125.3 L579.6,1126.7 L577.9,1128.2 L576.2,1129.6 L574.5,1131.1 L572.8,1132.6 L571.1,1134.1 L569.4,1135.6 L567.7,1137.2 L566.1,1138.7 L564.4,1140.3 L562.7,1142.0 L561.1,1143.6 L559.5,1145.3 L558.0,1147.2 L556.6,1149.0 L555.2,1150.9 L553.7,1152.8 L552.3,1154.8 L550.8,1156.8 L549.4,1158.8 L548.0,1160.8 L546.6,1162.9 L545.1,1164.9 L543.7,1167.1 L542.3,1169.2 L540.9,1171.4 L539.5,1173.6 L538.1,1175.8 L536.7,1178.1 L535.3,1180.3 L533.8,1182.6 L532.4,1184.9 L531.0,1187.3 L529.6,1189.7 L528.3,1192.1 L526.9,1194.5 L525.5,1197.0 L524.2,1199.4 L522.8,1201.9 L521.5,1204.4 L520.1,1207.0 L518.7,1209.5 L517.4,1212.1 L516.0,1214.7 L514.6,1217.3 L513.3,1219.9 L511.9,1222.6 L510.5,1225.2 L509.1,1227.9 L507.8,1230.6 L506.4,1233.3 L505.0,1236.0 L503.6,1238.8 L502.2,1241.5 L500.8,1244.3 L499.4,1247.0 L498.0,1249.8 L496.5,1252.6 L495.1,1255.4 L493.7,1258.2 L492.2,1261.0 L490.8,1263.9 L489.3,1266.7 L487.8,1269.5 L486.4,1272.4 L484.9,1275.1 L483.5,1277.9 L482.0,1280.7 L480.6,1283.5 L479.2,1286.2 L477.8,1288.9 L476.4,1291.6 L475.0,1294.3 L473.6,1297.0 L472.2,1299.7 L470.8,1302.4 L469.4,1305.0 L468.1,1307.7 L466.7,1310.3 L465.3,1312.9 L464.0,1315.5 L462.7,1318.1 L461.3,1320.7 L460.0,1323.3 L458.7,1325.9 L457.4,1328.4 L456.1,1331.0 L454.8,1333.5 L453.5,1336.1 L452.2,1338.6 L451.0,1341.2 L449.7,1343.7 L448.5,1346.2 L447.3,1348.8 L446.0,1351.4"/><path d="M683.1,1099.5 L680.9,1099.8 L679.7,1099.9 L678.5,1100.0 L677.3,1100.1 L676.0,1100.3 L674.8,1100.4 L673.6,1100.5 L672.3,1100.7 L671.1,1100.8 L669.9,1101.0 L668.6,1101.2 L667.3,1101.4 L666.1,1101.6 L664.8,1101.8 L663.5,1102.0 L662.2,1102.2 L660.9,1102.5 L659.6,1102.8 L658.3,1103.0 L656.9,1103.3 L655.6,1103.6 L654.2,1104.0 L652.8,1104.3 L651.4,1104.7 L650.0,1105.1 L648.6,1105.4 L647.2,1105.9 L645.7,1106.3 L644.3,1106.7 L642.6,1106.9 L640.9,1107.2 L639.3,1107.4 L637.5,1107.7 L635.8,1108.0 L634.0,1108.3 L632.3,1108.7 L630.5,1109.1 L628.6,1109.5 L626.8,1109.9 L625.0,1110.3 L623.1,1110.8 L621.2,1111.3 L619.3,1111.8 L617.3,1112.4 L615.4,1113.0 L613.4,1113.6 L611.5,1114.2 L609.5,1114.9 L607.5,1115.6 L605.8,1116.6 L604.1,1117.7 L602.4,1118.7 L600.7,1119.8 L599.0,1121.0 L597.3,1122.1 L595.6,1123.3 L593.9,1124.5 L592.2,1125.7 L590.5,1127.0 L588.8,1128.2 L587.1,1129.5 L585.4,1130.9 L583.7,1132.2 L582.0,1133.6 L580.3,1135.0 L578.6,1136.4 L576.9,1137.8 L575.2,1139.3 L573.5,1140.8 L571.8,1142.3 L570.1,1143.8 L568.5,1145.3 L566.8,1146.9 L565.2,1148.6 L563.8,1150.3 L562.3,1152.1 L560.9,1154.0 L559.5,1155.8 L558.0,1157.7 L556.6,1159.7 L555.2,1161.6 L553.7,1163.6 L552.3,1165.6 L550.9,1167.7 L549.4,1169.7 L548.0,1171.8 L546.6,1174.0 L545.2,1176.1 L543.7,1178.3 L542.3,1180.5 L540.9,1182.7 L539.5,1185.0 L538.0,1187.3 L536.6,1189.6 L535.2,1191.9 L533.8,1194.3 L532.4,1196.7 L531.0,1199.1 L529.7,1201.6 L528.3,1204.1 L526.9,1206.6 L525.5,1209.1 L524.2,1211.6 L522.8,1214.2 L521.4,1216.7 L520.0,1219.3 L518.6,1221.9 L517.2,1224.6 L515.8,1227.2 L514.4,1229.9 L513.0,1232.5 L511.6,1235.2 L510.2,1238.0 L508.8,1240.7 L507.4,1243.4 L505.9,1246.2 L504.5,1248.9 L503.1,1251.7 L501.6,1254.5 L500.1,1257.3 L498.7,1260.1 L497.2,1262.9 L495.7,1265.8 L494.2,1268.6 L492.7,1271.4 L491.2,1274.2 L489.7,1277.0 L488.3,1279.8 L486.8,1282.6 L485.4,1285.3 L484.0,1288.1 L482.5,1290.8 L481.1,1293.5 L479.7,1296.2 L478.3,1298.9 L476.9,1301.6 L475.5,1304.2 L474.1,1306.9 L472.7,1309.5 L471.3,1312.1 L469.9,1314.7 L468.5,1317.3 L467.2,1319.9 L465.8,1322.5 L464.5,1325.0 L463.1,1327.6 L461.8,1330.1 L460.5,1332.7 L459.2,1335.2 L457.9,1337.7 L456.6,1340.3 L455.4,1342.8 L454.1,1345.3 L452.8,1347.8 L451.6,1350.3 L450.3,1352.9"/></g>
<clipPath id="rclip"><path d="M1600.0,870.0 L1660.0,852.0 L1700.0,835.0 L1740.0,812.0 L1770.0,790.0 L1790.0,770.0 L1805.0,745.0 L1818.0,720.0 L1830.0,690.0 L1845.0,650.0 L1860.0,600.0 L1875.0,545.0 L1890.0,545.0 L1885.0,600.0 L1875.0,650.0 L1862.0,700.0 L1850.0,740.0 L1835.0,770.0 L1815.0,795.0 L1790.0,815.0 L1760.0,835.0 L1720.0,852.0 L1680.0,866.0 L1640.0,877.0 L1600.0,885.0Z"/></clipPath>
<g clip-path="url(#rclip)" fill="none" stroke="#fff" stroke-width="1.7" stroke-dasharray="1.7 5.5" stroke-opacity="0.85"><path d="M1628.2,871.2 L1630.9,870.0 L1633.7,868.8 L1636.4,867.6 L1639.2,866.3 L1642.0,865.1 L1644.7,863.9 L1647.5,862.6 L1650.3,861.3 L1653.1,860.1 L1655.9,858.8 L1658.7,857.5 L1661.5,856.2 L1664.3,854.8 L1667.1,853.5 L1669.9,852.1 L1672.7,850.8 L1675.5,849.4 L1678.3,848.0 L1681.1,846.6 L1683.9,845.2 L1686.7,843.7 L1689.5,842.3 L1692.2,840.8 L1695.0,839.3 L1697.8,837.8 L1700.6,836.3 L1703.3,834.8 L1706.1,833.2 L1708.8,831.6 L1711.5,830.0 L1714.3,828.4 L1717.0,826.8 L1719.7,825.1 L1722.4,823.5 L1725.1,821.8 L1727.7,820.0 L1730.4,818.3 L1733.0,816.5 L1735.6,814.8 L1738.2,813.0 L1740.8,811.1 L1743.4,809.3 L1745.9,807.4 L1748.5,805.5 L1751.0,803.6 L1753.5,801.6 L1756.0,799.6 L1758.4,797.6 L1760.9,795.6 L1763.3,793.5 L1765.6,791.4 L1768.0,789.3 L1770.3,787.2 L1772.6,785.0 L1774.9,782.8 L1777.2,780.6 L1779.4,778.3 L1781.6,776.0 L1783.8,773.7 L1785.9,771.3 L1788.0,768.9 L1790.1,766.5 L1792.1,764.1 L1794.1,761.6 L1796.1,759.1 L1798.0,756.5 L1799.9,753.9 L1801.8,751.3 L1803.6,748.7 L1805.4,746.1 L1807.1,743.4 L1808.8,740.7 L1810.5,738.0 L1812.1,735.3 L1813.7,732.5 L1815.3,729.8 L1816.9,727.0 L1818.4,724.2 L1819.9,721.4 L1821.3,718.6 L1822.7,715.8 L1824.1,713.0 L1825.5,710.1 L1826.9,707.3 L1828.2,704.4 L1829.5,701.6 L1830.8,698.7 L1832.1,695.8 L1833.4,692.9 L1834.6,690.1 L1835.8,687.2 L1837.0,684.3 L1838.2,681.4 L1839.4,678.5 L1840.6,675.6 L1841.7,672.7 L1842.9,669.8 L1844.0,666.9 L1845.1,664.0 L1846.2,661.1 L1847.4,658.2 L1848.4,655.3 L1849.5,652.4 L1850.6,649.5 L1851.7,646.6 L1852.7,643.7 L1853.7,640.7 L1854.8,637.8 L1855.8,634.9 L1856.8,632.0 L1857.8,629.1 L1858.8,626.2 L1859.8,623.2 L1860.8,620.3 L1861.8,617.4 L1862.8,614.5 L1863.7,611.6 L1864.7,608.7 L1865.6,605.8 L1866.6,602.9 L1867.5,599.9 L1868.5,597.0 L1869.4,594.1 L1870.3,591.2 L1871.2,588.3 L1872.2,585.4 L1873.1,582.6 L1874.0,579.7 L1874.9,576.8 L1875.8,573.9 L1876.7,571.0 L1877.6,568.2 L1878.5,565.3 L1879.4,562.4 L1880.3,559.6 L1881.1,556.7"/><path d="M1630.8,877.1 L1633.6,875.9 L1636.3,874.7 L1639.1,873.5 L1641.8,872.3 L1644.6,871.0 L1647.4,869.8 L1650.2,868.5 L1653.0,867.2 L1655.8,866.0 L1658.6,864.7 L1661.4,863.4 L1664.2,862.0 L1667.1,860.7 L1669.9,859.3 L1672.7,858.0 L1675.5,856.6 L1678.4,855.2 L1681.2,853.8 L1684.0,852.4 L1686.8,851.0 L1689.7,849.5 L1692.5,848.0 L1695.3,846.5 L1698.1,845.0 L1700.9,843.5 L1703.7,842.0 L1706.5,840.4 L1709.3,838.8 L1712.1,837.3 L1714.8,835.6 L1717.6,834.0 L1720.4,832.3 L1723.1,830.7 L1725.8,829.0 L1728.6,827.2 L1731.3,825.5 L1734.0,823.7 L1736.6,821.9 L1739.3,820.1 L1742.0,818.3 L1744.6,816.4 L1747.2,814.5 L1749.8,812.6 L1752.4,810.7 L1755.0,808.7 L1757.5,806.7 L1760.1,804.7 L1762.6,802.6 L1765.0,800.6 L1767.5,798.4 L1770.0,796.3 L1772.4,794.1 L1774.8,791.9 L1777.1,789.7 L1779.5,787.4 L1781.8,785.2 L1784.1,782.8 L1786.3,780.5 L1788.6,778.1 L1790.8,775.7 L1792.9,773.2 L1795.1,770.7 L1797.2,768.2 L1799.2,765.6 L1801.3,763.0 L1803.3,760.4 L1805.2,757.7 L1807.1,755.1 L1809.0,752.4 L1810.8,749.7 L1812.6,746.9 L1814.3,744.2 L1816.1,741.4 L1817.7,738.6 L1819.4,735.8 L1821.0,733.0 L1822.6,730.1 L1824.1,727.3 L1825.6,724.4 L1827.1,721.6 L1828.6,718.7 L1830.0,715.8 L1831.4,712.9 L1832.8,710.0 L1834.1,707.1 L1835.5,704.2 L1836.8,701.3 L1838.1,698.4 L1839.3,695.5 L1840.6,692.6 L1841.8,689.7 L1843.0,686.8 L1844.2,683.9 L1845.4,681.0 L1846.6,678.1 L1847.8,675.1 L1848.9,672.2 L1850.1,669.3 L1851.2,666.4 L1852.3,663.4 L1853.4,660.5 L1854.5,657.6 L1855.6,654.7 L1856.7,651.7 L1857.8,648.8 L1858.8,645.9 L1859.9,642.9 L1860.9,640.0 L1861.9,637.1 L1863.0,634.1 L1864.0,631.2 L1865.0,628.3 L1866.0,625.3 L1867.0,622.4 L1868.0,619.5 L1868.9,616.6 L1869.9,613.6 L1870.9,610.7 L1871.8,607.8 L1872.8,604.9 L1873.7,601.9 L1874.6,599.0 L1875.6,596.1 L1876.5,593.2 L1877.4,590.3 L1878.4,587.4 L1879.3,584.5 L1880.2,581.6 L1881.1,578.7 L1882.0,575.8 L1882.9,573.0 L1883.8,570.1 L1884.7,567.2 L1885.6,564.4 L1886.5,561.5 L1887.4,558.6"/><path d="M1633.4,883.1 L1636.2,881.9 L1638.9,880.7 L1641.7,879.4 L1644.5,878.2 L1647.3,877.0 L1650.1,875.7 L1652.9,874.4 L1655.7,873.2 L1658.5,871.9 L1661.3,870.6 L1664.2,869.2 L1667.0,867.9 L1669.9,866.6 L1672.7,865.2 L1675.5,863.8 L1678.4,862.4 L1681.2,861.0 L1684.1,859.6 L1687.0,858.2 L1689.8,856.7 L1692.7,855.3 L1695.5,853.8 L1698.3,852.3 L1701.2,850.8 L1704.0,849.2 L1706.9,847.7 L1709.7,846.1 L1712.5,844.5 L1715.3,842.9 L1718.1,841.2 L1720.9,839.6 L1723.7,837.9 L1726.5,836.2 L1729.3,834.5 L1732.1,832.7 L1734.8,830.9 L1737.5,829.1 L1740.3,827.3 L1743.0,825.5 L1745.7,823.6 L1748.4,821.7 L1751.0,819.8 L1753.7,817.8 L1756.3,815.8 L1759.0,813.8 L1761.6,811.8 L1764.1,809.7 L1766.7,807.6 L1769.2,805.5 L1771.8,803.4 L1774.3,801.2 L1776.7,798.9 L1779.2,796.7 L1781.6,794.4 L1784.0,792.1 L1786.4,789.7 L1788.7,787.4 L1791.1,784.9 L1793.3,782.5 L1795.6,780.0 L1797.8,777.5 L1800.0,774.9 L1802.2,772.3 L1804.3,769.7 L1806.4,767.0 L1808.5,764.3 L1810.5,761.6 L1812.4,758.8 L1814.4,756.0 L1816.2,753.2 L1818.1,750.4 L1819.9,747.6 L1821.6,744.8 L1823.3,741.9 L1825.0,739.0 L1826.6,736.2 L1828.3,733.3 L1829.8,730.4 L1831.4,727.5 L1832.9,724.5 L1834.4,721.6 L1835.8,718.7 L1837.2,715.8 L1838.6,712.8 L1840.0,709.9 L1841.4,706.9 L1842.7,704.0 L1844.0,701.0 L1845.3,698.1 L1846.6,695.2 L1847.8,692.2 L1849.0,689.3 L1850.3,686.4 L1851.5,683.4 L1852.6,680.5 L1853.8,677.5 L1855.0,674.6 L1856.1,671.6 L1857.3,668.7 L1858.4,665.8 L1859.5,662.8 L1860.6,659.9 L1861.7,656.9 L1862.8,654.0 L1863.9,651.0 L1864.9,648.1 L1866.0,645.1 L1867.0,642.2 L1868.1,639.2 L1869.1,636.3 L1870.1,633.3 L1871.1,630.4 L1872.1,627.4 L1873.1,624.5 L1874.1,621.5 L1875.1,618.6 L1876.1,615.7 L1877.0,612.7 L1878.0,609.8 L1878.9,606.9 L1879.9,603.9 L1880.8,601.0 L1881.8,598.1 L1882.7,595.2 L1883.6,592.3 L1884.6,589.4 L1885.5,586.5 L1886.4,583.6 L1887.3,580.7 L1888.2,577.8 L1889.1,574.9 L1890.0,572.0 L1890.9,569.2 L1891.8,566.3 L1892.7,563.4 L1893.6,560.6"/><path d="M1636.1,889.0 L1638.8,887.8 L1641.6,886.6 L1644.3,885.4 L1647.1,884.1 L1649.9,882.9 L1652.7,881.6 L1655.6,880.4 L1658.4,879.1 L1661.2,877.8 L1664.1,876.5 L1666.9,875.1 L1669.8,873.8 L1672.6,872.4 L1675.5,871.1 L1678.4,869.7 L1681.3,868.3 L1684.1,866.9 L1687.0,865.4 L1689.9,864.0 L1692.8,862.5 L1695.6,861.0 L1698.5,859.5 L1701.4,858.0 L1704.3,856.5 L1707.1,854.9 L1710.0,853.4 L1712.9,851.8 L1715.7,850.1 L1718.6,848.5 L1721.4,846.8 L1724.3,845.2 L1727.1,843.5 L1729.9,841.7 L1732.7,840.0 L1735.5,838.2 L1738.3,836.4 L1741.1,834.6 L1743.9,832.7 L1746.7,830.8 L1749.4,828.9 L1752.2,827.0 L1754.9,825.0 L1757.6,823.0 L1760.3,821.0 L1762.9,819.0 L1765.6,816.9 L1768.2,814.8 L1770.8,812.6 L1773.4,810.5 L1776.0,808.3 L1778.6,806.0 L1781.1,803.8 L1783.6,801.5 L1786.1,799.1 L1788.6,796.7 L1791.0,794.3 L1793.4,791.9 L1795.8,789.4 L1798.1,786.9 L1800.5,784.3 L1802.7,781.7 L1805.0,779.1 L1807.2,776.4 L1809.4,773.7 L1811.6,771.0 L1813.7,768.2 L1815.7,765.4 L1817.8,762.5 L1819.7,759.7 L1821.6,756.8 L1823.5,753.9 L1825.4,751.1 L1827.2,748.1 L1828.9,745.2 L1830.6,742.3 L1832.3,739.4 L1833.9,736.4 L1835.6,733.4 L1837.1,730.5 L1838.7,727.5 L1840.2,724.5 L1841.7,721.6 L1843.1,718.6 L1844.5,715.6 L1845.9,712.6 L1847.3,709.6 L1848.6,706.6 L1850.0,703.7 L1851.3,700.7 L1852.5,697.7 L1853.8,694.7 L1855.0,691.8 L1856.3,688.8 L1857.5,685.9 L1858.7,682.9 L1859.9,679.9 L1861.0,677.0 L1862.2,674.0 L1863.3,671.0 L1864.5,668.1 L1865.6,665.1 L1866.7,662.1 L1867.8,659.2 L1868.9,656.2 L1870.0,653.2 L1871.1,650.3 L1872.1,647.3 L1873.2,644.3 L1874.2,641.4 L1875.2,638.4 L1876.3,635.4 L1877.3,632.5 L1878.3,629.5 L1879.3,626.6 L1880.3,623.6 L1881.3,620.7 L1882.2,617.7 L1883.2,614.8 L1884.2,611.8 L1885.1,608.9 L1886.1,605.9 L1887.0,603.0 L1888.0,600.1 L1888.9,597.2 L1889.8,594.2 L1890.7,591.3 L1891.7,588.4 L1892.6,585.5 L1893.5,582.6 L1894.4,579.7 L1895.3,576.8 L1896.2,574.0 L1897.1,571.1 L1898.0,568.2 L1898.9,565.4 L1899.8,562.5"/></g>

<path d="M401.4,1095.0 C405.2,1089.1 417.0,1070.2 424.2,1059.5 C431.4,1048.8 438.1,1039.8 444.8,1031.0 C451.5,1022.2 457.2,1014.6 464.2,1007.0 C471.2,999.4 478.4,992.0 487.0,985.3 C495.6,978.6 506.1,972.5 515.6,967.0 C525.1,961.5 534.6,956.6 544.1,952.2 C553.6,947.8 565.8,943.5 572.6,940.8 C579.4,938.1 582.9,936.8 585.0,936.0" fill="none" stroke="#000" stroke-width="2.3" stroke-dasharray="2.6 4"/><polygon points="601.2,930.5 585.9,944.7 580.5,928.6" fill="#000"/>
<path d="M986.5,1008.8 C970.0,1008.7 917.1,1008.3 887.4,1008.2 C857.6,1008.1 826.2,1007.8 808.0,1008.2 C789.8,1008.6 788.2,1009.2 778.3,1010.8 C768.4,1012.4 758.5,1014.3 748.6,1017.8 C738.7,1021.3 728.8,1025.7 718.9,1031.6 C709.0,1037.5 697.4,1046.5 689.1,1053.4 C680.8,1060.4 675.9,1066.0 669.3,1073.3 C662.7,1080.6 656.1,1088.4 649.5,1097.0 C642.9,1105.6 635.3,1116.5 629.7,1124.8 C624.1,1133.1 618.1,1143.0 615.8,1146.6" fill="none" stroke="#000" stroke-width="2.3" stroke-dasharray="2.6 4"/><polygon points="602.0,1167.4 605.3,1146.8 619.5,1156.1" fill="#000"/>
<path d="M1510.5,848.8 C1516.2,847.0 1531.8,842.5 1545.0,838.3 C1558.2,834.1 1575.0,828.9 1590.0,823.4 C1605.0,817.9 1619.9,813.1 1634.9,805.4 C1649.9,797.6 1666.2,787.1 1679.9,776.9 C1693.7,766.6 1706.2,755.9 1717.4,743.9 C1728.6,731.9 1739.1,717.1 1747.3,704.9 C1755.5,692.7 1761.3,681.0 1766.8,670.5 C1772.3,660.0 1778.0,646.8 1780.3,642.0" fill="none" stroke="#000" stroke-width="2.3" stroke-dasharray="2.6 4"/><polygon points="1792.3,618.7 1791.3,639.5 1776.1,631.8" fill="#000"/>
<path d="M1875.0,378.0 C1876.7,372.5 1881.7,358.0 1885.0,345.0 C1888.3,332.0 1891.7,313.8 1895.0,300.0 C1898.3,286.2 1902.2,272.8 1905.0,262.0 C1907.8,251.2 1910.8,239.5 1912.0,235.0" fill="none" stroke="#000" stroke-width="2.3" stroke-dasharray="2.6 4"/><polygon points="1920.7,207.9 1923.0,228.6 1906.8,223.4" fill="#000"/>
<path d="M1987.8,332.5 C1987.2,340.4 1985.5,365.4 1984.0,380.0 C1982.5,394.6 1980.8,406.7 1979.0,420.0 C1977.2,433.3 1974.7,448.3 1973.0,460.0 C1971.3,471.7 1969.7,485.0 1969.0,490.0" fill="none" stroke="#000" stroke-width="2.3" stroke-dasharray="2.6 4"/><polygon points="1964.0,514.7 1959.1,494.5 1975.8,497.6" fill="#000"/>
<path d="M1843.2,884.5 C1841.2,886.5 1836.1,891.1 1831.5,896.2 C1826.9,901.3 1820.8,909.3 1815.5,915.3 C1810.2,921.3 1805.8,927.3 1799.6,932.3 C1793.4,937.3 1785.4,940.8 1778.3,945.1 C1771.2,949.4 1764.1,954.4 1757.0,957.9 C1749.9,961.4 1742.8,963.8 1735.7,966.4 C1728.6,969.0 1721.6,971.8 1714.5,973.8 C1707.4,975.8 1699.8,976.7 1693.2,978.1 C1686.6,979.5 1678.0,981.4 1675.0,982.0" fill="none" stroke="#000" stroke-width="2.3" stroke-dasharray="2.6 4"/><polygon points="1651.7,986.0 1668.8,974.1 1671.9,990.8" fill="#000"/>
<rect x="294" y="19" width="1765" height="7" fill="#000"/>
<rect x="294" y="1487" width="1765" height="8" fill="#000"/>
<rect x="294" y="19" width="5" height="1476" fill="#000"/>
<rect x="2051.5" y="19" width="7" height="1476" fill="#000"/>
<rect x="269.5" y="91.5" width="26" height="5" fill="#000"/>
<rect x="269.5" y="371.0" width="26" height="5" fill="#000"/>
<rect x="269.5" y="650.5" width="26" height="5" fill="#000"/>
<rect x="269.5" y="930.0" width="26" height="5" fill="#000"/>
<rect x="269.5" y="1209.5" width="26" height="5" fill="#000"/>
<rect x="269.5" y="1489.0" width="26" height="5" fill="#000"/>
<rect x="280.5" y="231.8" width="15" height="4.5" fill="#000"/>
<rect x="280.5" y="511.2" width="15" height="4.5" fill="#000"/>
<rect x="280.5" y="790.8" width="15" height="4.5" fill="#000"/>
<rect x="280.5" y="1070.2" width="15" height="4.5" fill="#000"/>
<rect x="280.5" y="1349.8" width="15" height="4.5" fill="#000"/>
<rect x="357.7" y="1493" width="5.6" height="26" fill="#000"/>
<rect x="677.3" y="1493" width="5.6" height="26" fill="#000"/>
<rect x="996.9" y="1493" width="5.6" height="26" fill="#000"/>
<rect x="1316.5" y="1493" width="5.6" height="26" fill="#000"/>
<rect x="1636.1" y="1493" width="5.6" height="26" fill="#000"/>
<rect x="1955.7" y="1493" width="5.6" height="26" fill="#000"/>
<rect x="517.6" y="1493" width="5.4" height="13" fill="#000"/>
<rect x="837.2" y="1493" width="5.4" height="13" fill="#000"/>
<rect x="1156.8" y="1493" width="5.4" height="13" fill="#000"/>
<rect x="1476.4" y="1493" width="5.4" height="13" fill="#000"/>
<rect x="1796.0" y="1493" width="5.4" height="13" fill="#000"/>
<text x="256.5" y="114.3" text-anchor="end" font-size="72" font-family="Liberation Serif, 'Times New Roman', serif" font-weight="bold">60.0</text>
<text x="256.5" y="393.8" text-anchor="end" font-size="72" font-family="Liberation Serif, 'Times New Roman', serif" font-weight="bold">40.0</text>
<text x="256.5" y="673.3" text-anchor="end" font-size="72" font-family="Liberation Serif, 'Times New Roman', serif" font-weight="bold">20.0</text>
<text x="256.5" y="952.8" text-anchor="end" font-size="72" font-family="Liberation Serif, 'Times New Roman', serif" font-weight="bold">0.0</text>
<text x="256.5" y="1232.3" text-anchor="end" font-size="72" font-family="Liberation Serif, 'Times New Roman', serif" font-weight="bold">-20.0</text>
<text x="256.5" y="1511.8" text-anchor="end" font-size="72" font-family="Liberation Serif, 'Times New Roman', serif" font-weight="bold">-40.0</text>
<text x="360.5" y="1589" text-anchor="middle" font-size="72" font-family="Liberation Serif, 'Times New Roman', serif" font-weight="bold">-1.0</text>
<text x="680.1" y="1589" text-anchor="middle" font-size="72" font-family="Liberation Serif, 'Times New Roman', serif" font-weight="bold">-0.5</text>
<text x="999.7" y="1589" text-anchor="middle" font-size="72" font-family="Liberation Serif, 'Times New Roman', serif" font-weight="bold">0.0</text>
<text x="1319.3" y="1589" text-anchor="middle" font-size="72" font-family="Liberation Serif, 'Times New Roman', serif" font-weight="bold">0.5</text>
<text x="1638.9" y="1589" text-anchor="middle" font-size="72" font-family="Liberation Serif, 'Times New Roman', serif" font-weight="bold">1.0</text>
<text x="1958.5" y="1589" text-anchor="middle" font-size="72" font-family="Liberation Serif, 'Times New Roman', serif" font-weight="bold">1.5</text>
<text x="1177" y="1717.5" text-anchor="middle" font-size="80" letter-spacing="0.8" font-family="Liberation Serif, 'Times New Roman', serif" font-weight="bold">Potential (V)</text>
<g transform="translate(74,0) rotate(-90)"><text x="-1052.5" y="0" font-size="83" font-family="Liberation Serif, 'Times New Roman', serif" font-weight="bold">Current</text><text x="-740.3" y="0" font-size="83" font-family="Liberation Serif, serif">(</text><text x="-702" y="0" font-size="80" font-family="Liberation Serif, serif">µ</text><text x="0" y="0" transform="translate(-648.8,0) scale(0.947,1)" font-size="80" font-family="Liberation Serif, serif">A</text><text x="-585.7" y="0" font-size="83" font-family="Liberation Serif, serif">)</text></g>
<text x="2000" y="90.5" font-size="70" font-family="Liberation Serif, 'Times New Roman', serif" font-weight="bold">b</text>
<rect x="535" y="72.5" width="721" height="3" fill="#000"/>
<rect x="529" y="72.5" width="8" height="3" fill="#000"/>
<rect x="535" y="633.5" width="721" height="4.5" fill="#000"/>
<rect x="535" y="72.5" width="5" height="566" fill="#000"/>
<rect x="1252.5" y="72.5" width="3" height="566.5" fill="#000"/>
<rect x="527" y="589.9" width="9" height="4.8" fill="#000"/>
<rect x="527" y="474.8" width="9" height="4.8" fill="#000"/>
<rect x="527" y="359.7" width="9" height="4.8" fill="#000"/>
<rect x="527" y="244.6" width="9" height="4.8" fill="#000"/>
<rect x="527" y="129.5" width="9" height="4.8" fill="#000"/>
<rect x="529.5" y="533.1" width="6" height="3.2" fill="#000"/>
<rect x="529.5" y="418.0" width="6" height="3.2" fill="#000"/>
<rect x="529.5" y="302.9" width="6" height="3.2" fill="#000"/>
<rect x="529.5" y="187.8" width="6" height="3.2" fill="#000"/>
<rect x="576.5" y="637" width="3.6" height="11" fill="#000"/>
<rect x="787.4" y="637" width="3.6" height="11" fill="#000"/>
<rect x="998.2" y="637" width="3.6" height="11" fill="#000"/>
<rect x="1209.0" y="637" width="3.6" height="11" fill="#000"/>
<rect x="682.2" y="637" width="3" height="5.5" fill="#000"/>
<rect x="893.1" y="637" width="3" height="5.5" fill="#000"/>
<rect x="1103.9" y="637" width="3" height="5.5" fill="#000"/>
<text x="518" y="597.8" text-anchor="end" font-size="47" font-family="Liberation Serif, 'Times New Roman', serif" font-weight="bold">0,5</text>
<text x="518" y="482.7" text-anchor="end" font-size="47" font-family="Liberation Serif, 'Times New Roman', serif" font-weight="bold">1,0</text>
<text x="518" y="367.6" text-anchor="end" font-size="47" font-family="Liberation Serif, 'Times New Roman', serif" font-weight="bold">1,5</text>
<text x="518" y="252.5" text-anchor="end" font-size="47" font-family="Liberation Serif, 'Times New Roman', serif" font-weight="bold">2,0</text>
<text x="518" y="137.4" text-anchor="end" font-size="47" font-family="Liberation Serif, 'Times New Roman', serif" font-weight="bold">2,5</text>
<text x="578.3" y="688.5" text-anchor="middle" font-size="47" font-family="Liberation Serif, 'Times New Roman', serif" font-weight="bold">5</text>
<text x="789.1" y="688.5" text-anchor="middle" font-size="47" font-family="Liberation Serif, 'Times New Roman', serif" font-weight="bold">10</text>
<text x="1000.0" y="688.5" text-anchor="middle" font-size="47" font-family="Liberation Serif, 'Times New Roman', serif" font-weight="bold">15</text>
<text x="1210.8" y="688.5" text-anchor="middle" font-size="47" font-family="Liberation Serif, 'Times New Roman', serif" font-weight="bold">20</text>
<text x="869.5" y="765.4" text-anchor="middle" font-size="50" letter-spacing="0.85" font-family="Liberation Serif, 'Times New Roman', serif" font-weight="bold">Number of cycles</text>
<g transform="translate(400.3,0) rotate(-90)"><text x="-541.6" y="0" font-size="53" font-family="Liberation Serif, 'Times New Roman', serif" font-weight="bold">Current</text><text x="-342" y="0" font-size="52" font-family="Liberation Serif, serif">(</text><text x="-317" y="0" font-size="50" font-family="Liberation Serif, serif">µ</text><text x="-283" y="0" font-size="48" font-family="Liberation Serif, serif">A</text><text x="-242" y="0" font-size="52" font-family="Liberation Serif, serif">)</text></g>
<text x="0" y="0" font-size="86" transform="translate(1199.5,135.8) scale(0.964,1.034)" font-family="Liberation Serif, 'Times New Roman', serif" font-weight="bold">a</text>
<polyline points="578.3,558.0 790.4,127.4 999.9,241.8 1211.2,537.0" fill="none" stroke="#000" stroke-width="2.5"/>
<circle cx="578.3" cy="558.0" r="17.3" fill="url(#ball)"/>
<circle cx="790.4" cy="127.4" r="17.3" fill="url(#ball)"/>
<circle cx="999.9" cy="241.8" r="17.3" fill="url(#ball)"/>
<circle cx="1211.2" cy="537.0" r="17.3" fill="url(#ball)"/>
<clipPath id="mclip"><circle cx="578.3" cy="558.0" r="17.3"/><circle cx="790.4" cy="127.4" r="17.3"/><circle cx="999.9" cy="241.8" r="17.3"/><circle cx="1211.2" cy="537.0" r="17.3"/></clipPath>
<polyline points="578.3,558.0 790.4,127.4 999.9,241.8 1211.2,537.0" fill="none" stroke="#5a0000" stroke-width="2.7" clip-path="url(#mclip)"/>
</svg>
</body></html>
